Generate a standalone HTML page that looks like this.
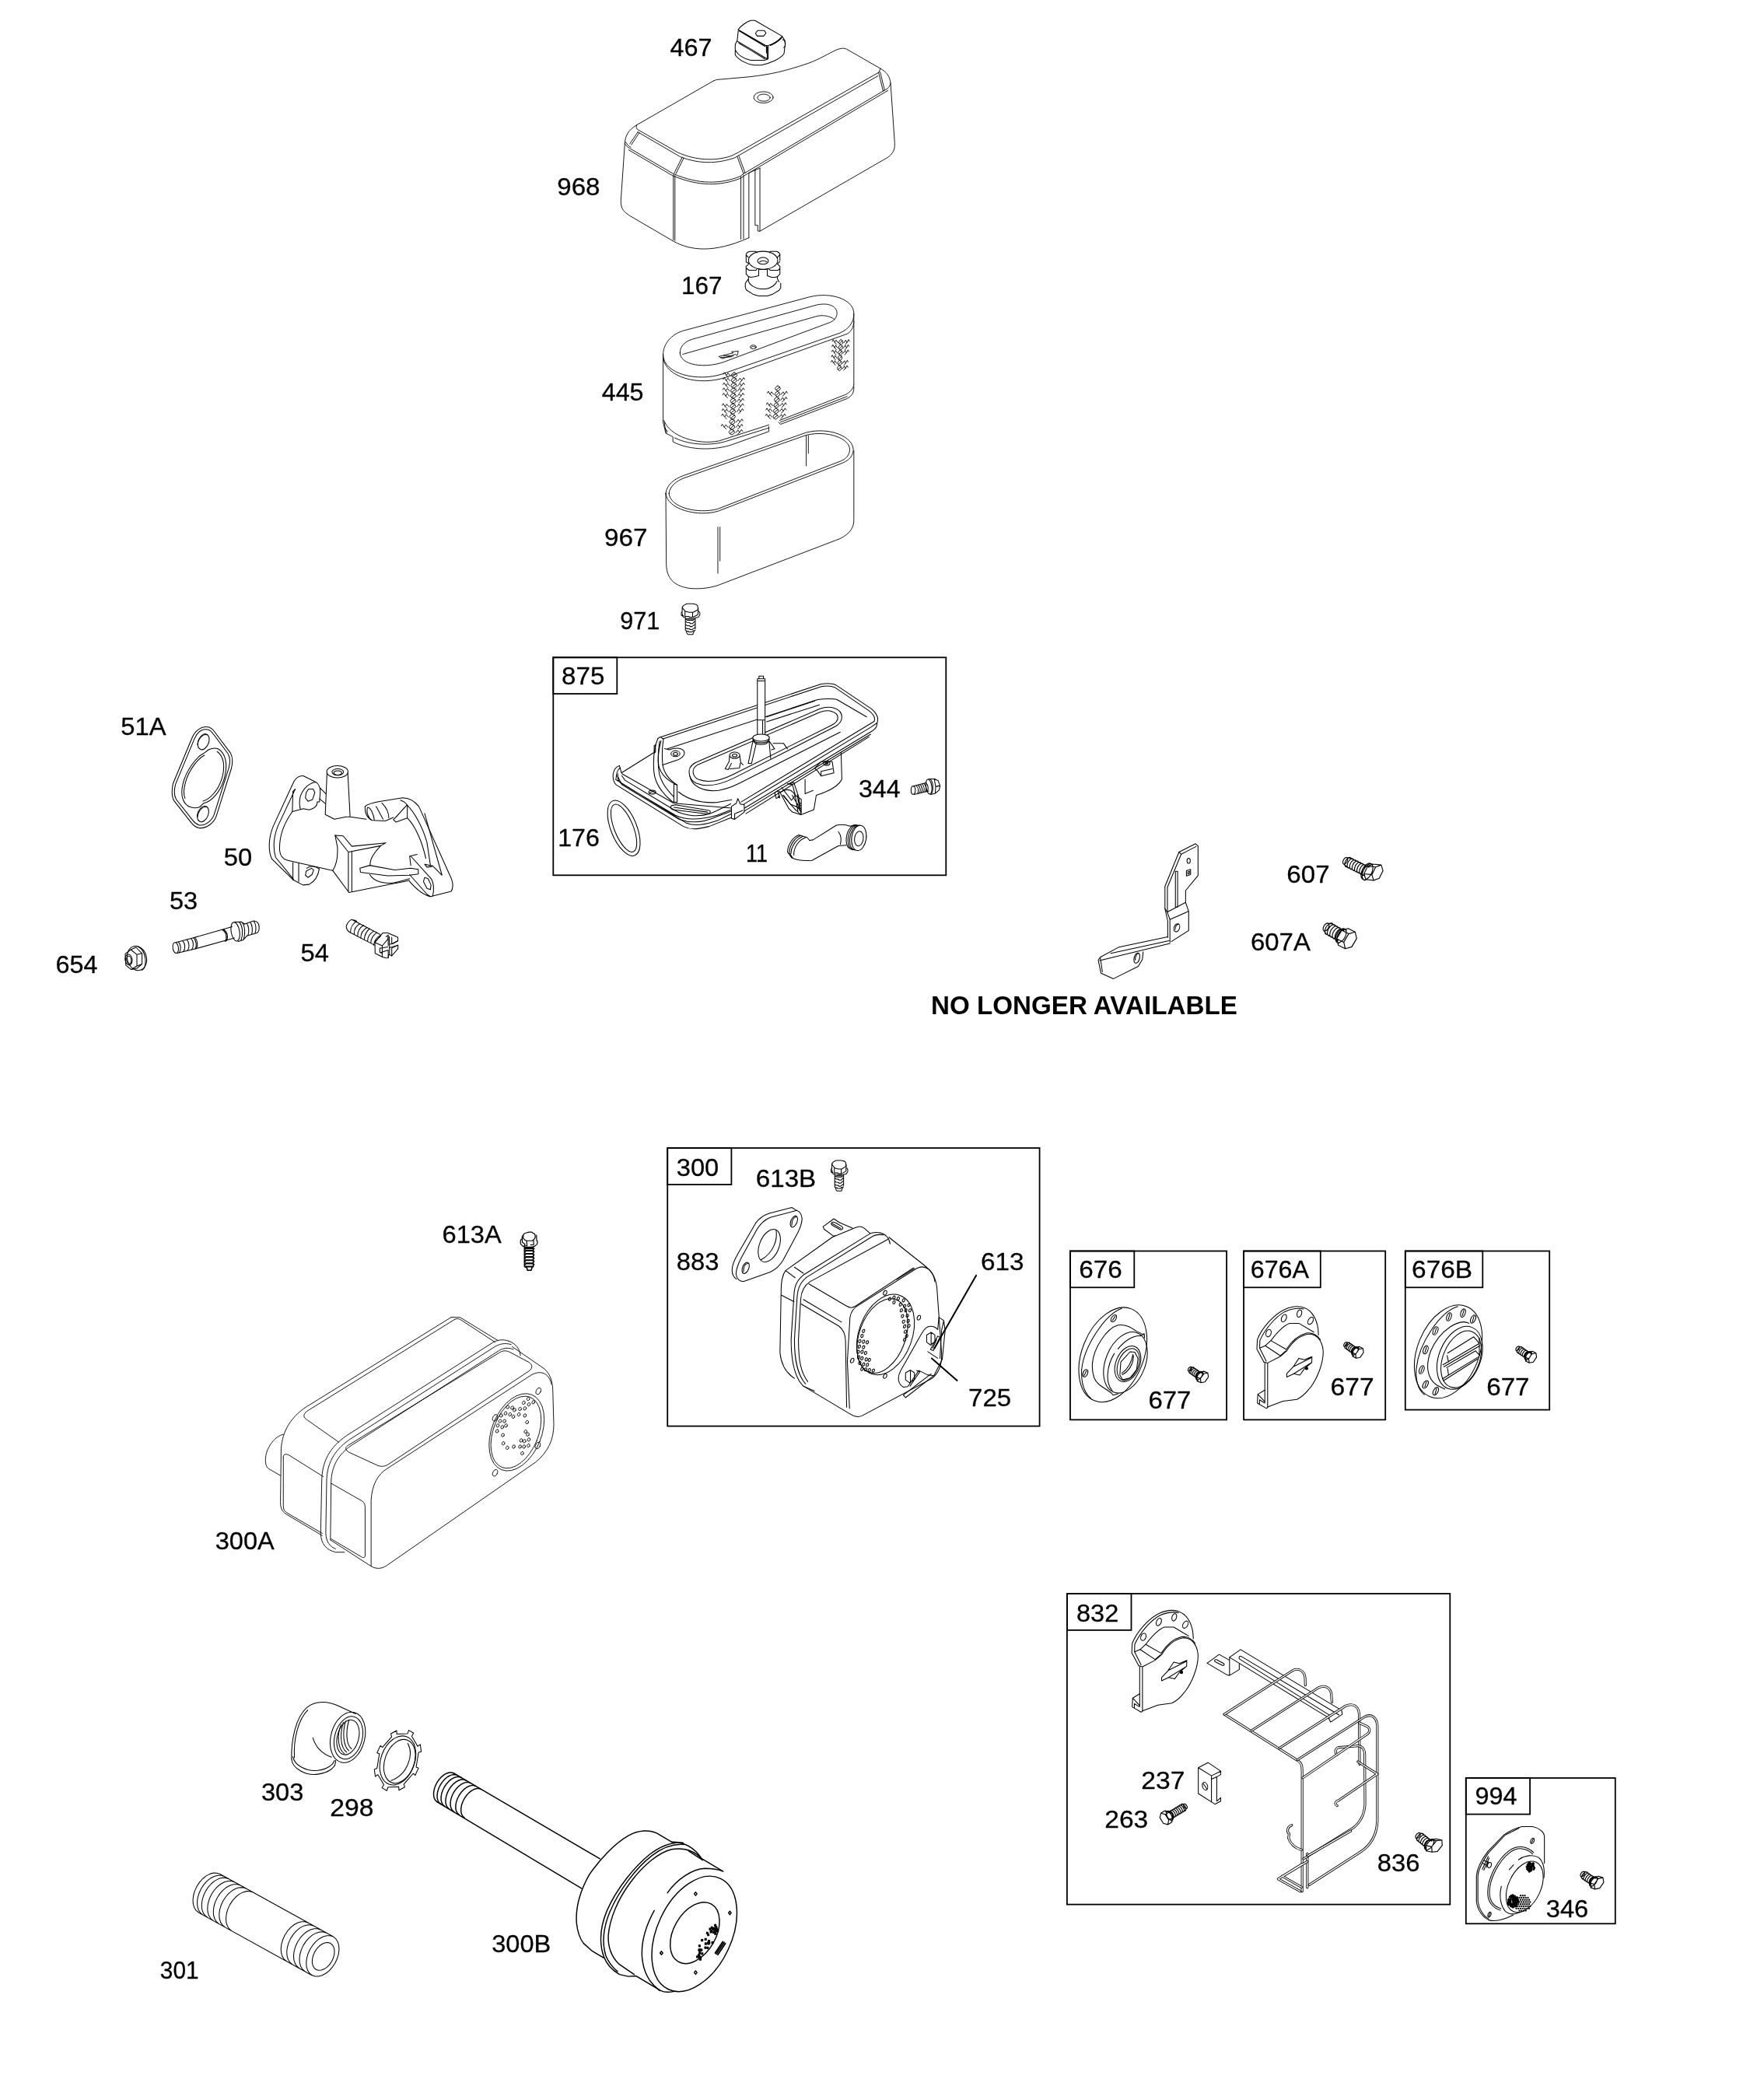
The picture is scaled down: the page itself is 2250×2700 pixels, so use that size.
<!DOCTYPE html>
<html><head><meta charset="utf-8"><title>Parts diagram</title>
<style>
html,body{margin:0;padding:0;background:#fff}
svg{display:block}
.p path,.p ellipse,.p circle,.p line,.p polyline,.p polygon,.p rect{fill:none;stroke:#000;stroke-width:1.05;vector-effect:non-scaling-stroke;stroke-linejoin:round;stroke-linecap:round}
.p .w{fill:#fff}
.p .k{fill:#000}
.p path.wo{stroke-width:3.1}.p path.wi{stroke:#fff;stroke-width:1.4}
.p g.thick path,.p g.thick ellipse{stroke-width:1.45}
.p g.thin path,.p g.thin ellipse{stroke-width:.9}
.bx rect{fill:none;stroke:#000;stroke-width:1.8}
text{font-family:"Liberation Sans",sans-serif;fill:#000}
text:not([font-weight]){stroke:#000;stroke-width:.3px}
</style></head>
<body>
<svg width="2250" height="2700" viewBox="0 0 2250 2700">
<rect width="2250" height="2700" fill="#fff"/>
<g class="p">
<!-- 968 cover, 467 knob, 167 : zoom origin 780,20 f4.375 -->
<g class="thin" transform="translate(780,20) scale(0.228571)">
<path d="M600,368 L170,615 C120,645 105,675 102,720 L80,1040 C78,1090 100,1108 140,1132 L380,1272 C470,1320 600,1340 800,1250"/>
<path d="M600,368 C615,360 625,360 640,359 L800,345 C930,330 1000,313 1130,270 C1200,245 1250,212 1290,194 C1315,183 1335,182 1350,189 L1540,298 C1575,318 1592,340 1597,380 L1620,715 C1624,765 1600,790 1560,810 L862,1213"/>
<path d="M170,615 C165,622 166,632 172,640 L400,770 C500,815 610,820 700,790 L740,770 L1530,320"/>
<path d="M175,655 L415,795 C520,835 620,835 720,800 L1525,340"/>
<path d="M102,720 C110,735 118,740 130,747 L375,890 C520,952 640,948 750,905 L770,890 L1580,410 C1590,402 1595,392 1597,380"/>
<path d="M108,712 C116,728 124,735 136,741"/>
<path d="M130,722 L175,655 M380,886 L425,797 M735,795 L770,890 M1530,322 L1555,425 M1540,298 L1530,322"/>
<path d="M375,895 V1262 M384,900 V1266 M755,905 V1258 M770,898 V1256 M800,885 V1250 M835,865 V1180 H850 V1212 L862,1213 V858"/>
<path d="M800,885 L862,858"/>
<path d="M124,756 L370,900 C520,963 640,959 752,916 L775,900 L1583,421"/>
<path d="M139,727 L183,660 M389,890 L434,801 M744,791 L779,886 M1539,318 L1563,420"/>
<ellipse cx="882" cy="460" rx="55" ry="32"/><ellipse cx="884" cy="462" rx="36" ry="20"/>
</g>
<g transform="translate(935,15) scale(0.0514286)">
<!-- 467 -->
<path d="M280,440 C340,360 480,250 590,220 L690,220 L1370,610 L1420,690 L1455,790 L1440,880 L1420,1050 C1330,1180 1080,1290 850,1335 L680,1335 C480,1320 280,1200 200,1080 V820 L250,720 Z"/>
<path d="M285,455 L960,845 L1040,840 C1160,800 1290,720 1370,620 M300,480 L950,870 M1080,845 C1180,805 1290,735 1365,655"/>
<path d="M980,850 V1030 M1000,870 V1190 M1025,860 V1180"/>
<path d="M250,740 L600,940 L990,1175 M290,790 L590,965 L940,1180 M205,960 C260,1080 420,1180 590,1215 L930,1215 L1000,1190"/>
<path d="M765,470 L925,470 L970,535 L910,610 L750,610 L705,540 Z"/>
<path d="M1385,700 L1440,720 L1450,850 L1415,900"/>
</g>
<g transform="translate(940,310) scale(0.0514286)">
<!-- 167 -->
<ellipse cx="800" cy="480" rx="365" ry="225"/>
<ellipse cx="797" cy="495" rx="135" ry="85"/><path d="M715,520 C760,480 840,480 890,520"/>
<path d="M375,345 C380,300 430,265 480,258 L615,258 L650,290 M375,345 V520 L440,560 M385,360 L430,400 M960,290 L980,258 L1140,258 C1185,275 1215,300 1220,330 V480 M1220,330 L1150,420 M1220,510 L1160,570"/>
<path d="M375,630 L440,575 M375,630 V825 L435,885 M380,680 L450,730 L620,730 L650,690 L690,690 V865 L590,890 L490,905 L435,885 M1220,630 L1160,575 M1220,630 V825 L1160,885 M1215,690 L1170,730 L980,730 L935,690 L905,690 V865 L1010,905 L1105,905 L1160,885 M690,690 L730,710 L870,710 L905,690"/>
<path d="M435,885 V1010 C470,1100 600,1180 730,1195 L870,1195 C1000,1170 1120,1090 1150,1000 M1155,885 L1160,950 L1200,1020"/>
<path d="M420,960 L355,1055 V1160 L380,1220 L550,1330 L690,1370 L910,1370 L1050,1320 L1200,1230 L1240,1170 V1050"/>
</g>
<!-- 445 filter, 967 base, 971 bolt : origin 760,360 f4.375 -->
<g class="thin" transform="translate(760,360) scale(0.228571)">
<path d="M405,420 C405,360 450,305 520,285 L1230,95 C1350,65 1480,110 1478,190 C1478,240 1450,275 1400,298 L740,528 C600,575 405,530 405,420 Z"/>
<path d="M500,410 C500,370 530,345 570,333 L1270,140 C1340,125 1385,150 1383,190 C1380,215 1365,230 1340,240 L750,460 C640,500 500,480 500,410 Z"/>
<path d="M515,418 L1265,205 C1300,195 1340,200 1370,222"/>
<path d="M405,440 C420,545 600,600 760,547 L1440,303 C1465,290 1478,262 1478,232"/>
<path d="M405,420 V800 M1478,190 V590"/>
<path d="M410,790 C440,880 600,930 720,905 L1000,815 M1060,790 L1430,645 C1460,630 1475,610 1478,590"/>
<path d="M405,800 L420,862 L460,882 V910 C560,962 700,957 790,927 L1000,852 V825 M1055,800 L1065,812 L1440,667 C1470,650 1480,630 1478,600"/>
<path d="M470,888 C560,932 680,932 760,907 L1000,832 M1065,800 L1440,655"/>
<path d="M415,830 L425,860 M412,800 C414,840 425,850 432,852"/>
<ellipse cx="912" cy="377" rx="17" ry="11"/><path d="M900,380 C905,372 920,372 925,380"/>
<path d="M720,430 L800,410 L790,404 L828,400 L822,425 L812,418 L740,442 Z M745,425 L800,428 M730,436 L790,432"/>
<path d="M805,520 Q838,535 805,550 Q772,535 805,520 M795,544 L818,526 M782,538 l-12,-15 l-9,14 l-11,-17 l-6,10 M772,548 l-11,-11 M804,549 Q836,564 804,580 Q771,564 804,549 M794,573 L816,555 M781,567 l-12,-15 l-9,14 l-11,-17 l-6,10 M771,577 l-11,-11 M826,567 l12,-15 l9,14 l11,-17 l6,10 M836,577 l11,-11 M802,578 Q835,593 802,609 Q770,593 802,578 M792,603 L815,584 M780,596 l-12,-15 l-9,14 l-11,-17 l-6,10 M770,606 l-11,-11 M825,596 l12,-15 l9,14 l11,-17 l6,10 M835,606 l11,-11 M801,607 Q834,622 801,638 Q769,622 801,607 M791,632 L814,613 M779,625 l-12,-15 l-9,14 l-11,-17 l-6,10 M769,635 l-11,-11 M824,625 l12,-15 l9,14 l11,-17 l6,10 M834,635 l11,-11 M800,636 Q832,652 800,667 Q768,652 800,636 M790,661 L812,642 M778,654 l-12,-15 l-9,14 l-11,-17 l-6,10 M768,664 l-11,-11 M822,654 l12,-15 l9,14 l11,-17 l6,10 M832,664 l11,-11 M799,665 Q831,681 799,696 Q766,681 799,665 M789,690 L811,672 M821,684 l12,-15 l9,14 l11,-17 l6,10 M831,693 l11,-11 M798,695 Q830,710 798,725 Q765,710 798,695 M788,719 L810,701 M775,713 l-12,-15 l-9,14 l-11,-17 l-6,10 M765,723 l-11,-11 M820,713 l12,-15 l9,14 l11,-17 l6,10 M830,723 l11,-11 M796,724 Q829,739 796,755 Q764,739 796,724 M786,748 L809,730 M774,742 l-12,-15 l-9,14 l-11,-17 l-6,10 M764,752 l-11,-11 M819,742 l12,-15 l9,14 l11,-17 l6,10 M829,752 l11,-11 M795,753 Q828,768 795,784 Q762,768 795,753 M785,778 L808,759 M772,771 l-12,-15 l-9,14 l-11,-17 l-6,10 M762,781 l-11,-11 M794,782 Q826,798 794,813 Q761,798 794,782 M784,807 L806,788 M816,800 l12,-15 l9,14 l11,-17 l6,10 M826,810 l11,-11 M792,811 Q825,827 792,842 Q760,827 792,811 M782,836 L805,817 M770,829 l-12,-15 l-9,14 l-11,-17 l-6,10 M760,839 l-11,-11 M815,829 l12,-15 l9,14 l11,-17 l6,10 M825,839 l11,-11 M791,840 Q824,856 791,871 Q759,856 791,840 M781,865 L804,847 M814,859 l12,-15 l9,14 l11,-17 l6,10 M824,868 l11,-11 M1050,595 Q1080,610 1050,625 Q1020,610 1050,595 M1041,619 L1062,601 M1048,626 Q1077,642 1048,657 Q1018,642 1048,626 M1038,651 L1059,632 M1027,644 l-12,-15 l-8,14 l-10,-17 l-6,10 M1018,654 l-10,-11 M1068,644 l12,-15 l8,14 l10,-17 l6,10 M1077,654 l10,-11 M1045,658 Q1075,673 1045,689 Q1015,673 1045,658 M1036,683 L1056,664 M1066,676 l12,-15 l8,14 l10,-17 l6,10 M1075,686 l10,-11 M1042,690 Q1072,705 1042,720 Q1013,705 1042,690 M1033,714 L1054,696 M1022,708 l-12,-15 l-8,14 l-10,-17 l-6,10 M1013,718 l-10,-11 M1063,708 l12,-15 l8,14 l10,-17 l6,10 M1072,718 l10,-11 M1040,721 Q1070,737 1040,752 Q1010,737 1040,721 M1031,746 L1052,727 M1019,739 l-12,-15 l-8,14 l-10,-17 l-6,10 M1010,749 l-10,-11 M1061,739 l12,-15 l8,14 l10,-17 l6,10 M1070,749 l10,-11 M1038,753 Q1067,768 1038,784 Q1008,768 1038,753 M1028,778 L1049,759 M1017,771 l-12,-15 l-8,14 l-10,-17 l-6,10 M1008,781 l-10,-11 M1058,771 l12,-15 l8,14 l10,-17 l6,10 M1067,781 l10,-11 M1405,335 Q1430,350 1405,365 Q1380,350 1405,335 M1397,359 L1414,341 M1388,353 l-10,-15 l-7,14 l-9,-17 l-5,10 M1380,363 l-9,-11 M1422,353 l10,-15 l7,14 l9,-17 l5,10 M1430,363 l9,-11 M1403,364 Q1428,379 1403,395 Q1379,379 1403,364 M1396,388 L1413,370 M1386,382 l-10,-15 l-7,14 l-9,-17 l-5,10 M1379,392 l-9,-11 M1420,382 l10,-15 l7,14 l9,-17 l5,10 M1428,392 l9,-11 M1402,393 Q1426,408 1402,424 Q1377,408 1402,393 M1394,418 L1411,399 M1385,411 l-10,-15 l-7,14 l-9,-17 l-5,10 M1377,421 l-9,-11 M1419,411 l10,-15 l7,14 l9,-17 l5,10 M1426,421 l9,-11 M1400,422 Q1425,438 1400,453 Q1375,438 1400,422 M1392,447 L1410,428 M1383,440 l-10,-15 l-7,14 l-9,-17 l-5,10 M1375,450 l-9,-11 M1398,451 Q1423,467 1398,482 Q1374,467 1398,451 M1391,476 L1408,457 M1381,469 l-10,-15 l-7,14 l-9,-17 l-5,10 M1374,479 l-9,-11 M1415,469 l10,-15 l7,14 l9,-17 l5,10 M1423,479 l9,-11 M1397,480 Q1421,496 1397,511 Q1372,496 1397,480 M1389,505 L1406,487 M1414,499 l10,-15 l7,14 l9,-17 l5,10 M1421,508 l9,-11"/>
<!-- 967 -->
<path d="M420,1200 C425,1150 470,1118 520,1100 L1210,858 C1340,825 1478,880 1475,960 C1470,1000 1440,1020 1400,1035 L715,1300 C600,1335 425,1290 420,1200 Z"/>
<path d="M438,1200 C442,1160 480,1130 525,1113 L1212,872 C1330,845 1455,890 1455,955 C1452,990 1430,1010 1395,1022 L712,1288 C600,1318 442,1280 438,1200 Z"/>
<path d="M420,1200 L423,1600 C425,1690 480,1725 560,1735 C620,1740 680,1730 720,1715 L1400,1455 C1460,1425 1478,1390 1478,1350 V960"/>
<path d="M1210,875 V1045 M1222,875 V975 M713,1390 V1650 M725,1390 V1580"/>
</g>
<g transform="translate(855,765) scale(0.0342857)">
<!-- 971 -->
<path d="M820,330 L1045,330 L1180,360 L1225,410 L1240,545 L1060,650 L910,650 L760,610 L660,490 L650,450 L700,390 L760,355 Z"/>
<path d="M650,450 L640,650 M1245,480 L1235,720 M750,610 V800 M1035,655 V830 M750,800 L900,800 L910,830 L1060,830 L1230,735"/>
<path d="M640,640 L615,650 L615,775 L650,780 L710,840 L750,840 M1270,610 L1310,680 L1305,750 L1250,830 L1130,860 M660,700 C640,720 660,760 690,780 M760,840 L780,880 L1110,880 L1130,860"/>
<path d="M765,860 V1330 M1135,880 V1275 M790,920 L850,950 L1050,950 L1100,910 M850,905 H1050 M790,1000 L830,1030 L930,1035 L940,1070 L1040,1070 L1110,990 M790,1120 L830,1150 L930,1155 L940,1185 L1010,1185 L1110,1110 M790,1240 L830,1265 L930,1270 L940,1300 L1010,1300 L1110,1230 M770,1330 L800,1350 L870,1360 L885,1385 L1010,1385 L1040,1350 L1130,1325 M800,1350 L820,1430 L860,1480 L1045,1480 L1065,1420 L1100,1340"/>
</g>
<!-- 875 assembly : origin 700,830 scale 530/1750 -->
<g transform="translate(700,830) scale(0.302857)">
</g>
<g transform="translate(780,860) scale(0.205714)">
<!-- back rim -->
<path d="M340,425 L1340,95 C1380,88 1410,90 1432,100 L1655,250 C1690,280 1702,310 1690,338 L1650,365 L850,850"/>
<path d="M352,438 L1342,110 C1378,104 1405,106 1425,115 L1640,262 C1670,285 1680,308 1672,328 L840,832"/>
<path d="M380,500 L1310,195 C1340,185 1420,185 1440,192 L1625,300"/>
<path d="M1690,338 C1692,360 1680,375 1660,388 L862,870 M1650,408 L862,888 M1640,425 L870,905"/>
<!-- front lip -->
<path d="M40,660 C45,630 60,610 80,605 L92,650 L300,520 M40,660 C38,690 45,710 60,725 L480,985 C520,1005 560,1005 640,985 L790,925"/>
<path d="M55,690 L495,962 C550,985 610,975 700,945 L780,905 M70,655 C65,690 75,705 90,715 L430,915 C500,950 600,940 690,915 L780,880"/>
<path d="M95,655 L420,840 L780,870"/>
<path d="M405,855 C395,865 400,875 415,880 L620,905 C650,905 655,890 640,885 L430,850 Z M420,865 L630,895"/>
<ellipse cx="285" cy="770" rx="22" ry="12"/><path d="M270,775 C280,765 295,765 303,772"/>
<!-- left wall -->
<path d="M320,435 C300,480 290,560 295,640 C300,720 350,780 410,830 L440,835 V725 C400,700 360,660 350,600"/>
<path d="M340,450 C320,520 318,600 330,660 C345,720 390,770 420,800 M320,435 L335,425 L355,440 C348,480 345,540 350,600"/>
<path d="M297,480 L305,475 V520 L297,525 Z M420,720 V832 M440,725 L420,720"/>
<path d="M350,600 L440,570 C480,555 495,530 480,510 C460,490 420,495 390,505 L362,498"/>
<ellipse cx="430" cy="530" rx="28" ry="18"/><ellipse cx="430" cy="532" rx="14" ry="9"/>
<!-- stadium -->
<path d="M515,640 C515,610 540,590 580,575 L1330,250 C1400,225 1470,250 1470,300 C1470,330 1450,350 1420,365 L800,680 C700,730 620,740 560,715 C530,700 515,675 515,640 Z"/>
<path d="M540,640 C540,615 560,600 595,588 L1335,270 C1390,250 1445,270 1445,305 C1445,325 1430,340 1405,352 L790,660 C700,705 630,712 575,692 C550,680 540,660 540,640 Z"/>
<path d="M520,670 C530,730 600,770 700,760 C760,750 800,730 830,715 L1460,395"/>
<path d="M1000,330 L1330,225 M1000,300 L1300,200"/>
<!-- post -->
<path d="M942,62 H990 V430 H942 Z" style="fill:#fff;stroke:none"/>
<path d="M942,75 V415 M990,75 V415 M952,62 V45 H980 V62 M942,75 V62 H990 V75 M942,320 H990 M942,75 H990 M975,325 V410"/>
<ellipse cx="965" cy="430" rx="52" ry="22" class="w"/><path d="M913,440 C925,470 1005,470 1017,440 M918,452 C930,480 1000,480 1012,452"/>
<path d="M915,445 L885,590 L905,592 L935,465 M1015,450 L1025,560 M1015,450 L1050,500 L1030,505 M1040,465 L1105,465 L1130,500"/>
<ellipse cx="800" cy="540" rx="32" ry="20"/><ellipse cx="800" cy="541" rx="15" ry="9"/>
<path d="M768,545 L765,580 L740,625 L760,630 L780,590 M832,545 L838,585 L852,600 M770,625 L830,620 L835,590"/>
<!-- carb body -->
<path d="M1465,520 L1470,690 C1450,730 1390,765 1310,790 L1295,880 L1215,912 L1180,880"/>
<path d="M1300,620 L1340,580 L1410,580 L1420,650 L1340,670 L1320,640 Z M1340,670 V640 L1410,625"/>
<ellipse cx="1375" cy="590" rx="20" ry="14"/><ellipse cx="1375" cy="590" rx="9" ry="6"/>
<path d="M1240,690 V780 L1290,760 M1090,770 C1130,740 1170,760 1180,800 L1195,890 M1100,790 L1180,880 M1140,720 L1170,710 L1200,800 L1215,910 M1160,790 L1200,860"/>
<path d="M1050,775 L1070,760 L1080,800 L1060,810 Z"/>
<!-- clip -->
<path d="M780,860 L810,840 L820,810 L835,845 L860,850 V895 L800,940 L780,935 Z M800,905 L850,885 M800,905 V940" class="w"/>
</g>
<g transform="translate(700,830) scale(0.302857)">
<!-- 176 o-ring -->
<ellipse cx="337" cy="775" rx="125" ry="55" transform="rotate(68 337 775)"/>
<ellipse cx="337" cy="775" rx="108" ry="40" transform="rotate(68 337 775)"/>
</g>
<g transform="translate(1000,990) scale(0.125714)">
<!-- 11 elbow -->
<path d="M215,665 C150,690 100,770 100,840 L140,895 M235,670 C170,695 118,775 118,845 L150,898 M255,680 C190,705 135,785 135,855 M285,690 C215,715 160,790 165,870 M215,665 L300,690 L325,720"/>
<path d="M325,720 L360,715 L600,565 C640,555 700,560 740,575 L790,560 L830,567 M140,895 C190,925 250,932 350,925 L620,775 L700,770 M620,630 C650,670 650,720 640,760"/>
<path d="M790,562 C740,570 700,640 700,720 C700,770 720,805 760,815 M808,565 C758,573 718,643 718,723 C718,773 738,808 775,818 M825,568 C775,576 735,646 735,726 C735,776 755,811 790,820"/>
<ellipse cx="830" cy="695" rx="75" ry="130" transform="rotate(8 830 695)"/><ellipse cx="830" cy="702" rx="45" ry="76" transform="rotate(8 830 702)"/>
<path d="M15,215 L110,390 L150,430 L230,455 M40,180 L140,310 L180,260 L150,150 L100,140 M60,260 L130,350 L200,380 L235,420 M180,260 L240,300 L240,440 M200,250 L210,330 L240,345 M185,370 L235,395 M195,340 L235,365 M0,270 L20,285 L10,250 M215,300 L225,420"/>
<!-- 344 -->
<ellipse cx="1385" cy="207" rx="22" ry="42"/>
<path d="M1385,165 L1520,130 M1392,250 L1545,215 M1415,158 C1440,180 1445,225 1425,245 M1435,153 C1460,175 1465,220 1445,240 M1455,148 C1480,170 1485,215 1465,235 M1475,143 C1500,165 1505,210 1485,230 M1495,138 C1520,160 1525,205 1505,225 M1515,133 C1540,155 1545,200 1525,220"/>
<ellipse cx="1545" cy="170" rx="30" ry="76" transform="rotate(-8 1545 170)"/>
<path d="M1560,95 C1590,120 1595,210 1570,245"/>
<path d="M1545,92 L1600,90 L1640,110 L1660,160 L1650,205 L1610,240 L1560,250 M1600,90 L1615,170 L1610,240 M1615,170 L1660,160"/>
</g>
<g transform="translate(775,930) scale(0.114286)">
<path d="M165,590 L215,690 L860,1080 C1000,1130 1150,1110 1280,1050 L1440,990 M215,590 L250,640 L820,985 C900,1030 1050,1060 1200,1020 L1280,985 L1440,905"/>
<path d="M850,770 C950,850 1100,900 1280,890 L1450,860 M150,620 C150,560 170,520 195,500"/>
<path d="M640,200 C625,300 615,400 630,480 C650,560 720,640 830,690"/>
</g>
<!-- 51A, 50, 53, 654, 54 : origin 60,900 scale 0.32 -->
<g transform="translate(60,900) scale(0.32)">
<!-- 51A gasket -->
<path d="M640,108 C660,108 668,118 680,135 L738,212 C748,228 748,250 742,275 L682,465 C672,495 640,518 612,514 C600,512 590,505 580,492 L512,405 C502,390 502,360 508,335 L585,150 C598,122 620,108 640,108 Z"/>
<path d="M640,118 C655,118 662,126 672,140 L728,215 C738,230 738,250 732,272 L673,460 C664,486 636,506 614,503 C604,501 596,495 588,485 L521,400 C512,386 512,360 518,338 L594,155 C605,130 622,118 640,118 Z"/>
<ellipse cx="630" cy="168" rx="21" ry="33" transform="rotate(22 630 168)"/>
<ellipse cx="628" cy="458" rx="21" ry="33" transform="rotate(22 628 458)"/>
<path d="M606,180 C610,150 630,135 645,140 M606,470 C610,440 630,425 645,430"/>
<path d="M690,197 C720,215 728,260 715,310 C700,370 660,410 630,415 L615,430 C590,438 560,432 548,400 C540,380 542,360 548,335 C560,285 600,230 630,215 L650,200 C665,193 680,192 690,197 Z"/>
<path d="M685,207 C710,225 718,262 706,308 C692,362 655,400 628,406 M556,395 C548,375 552,350 558,330 C570,285 605,236 634,222"/>
</g>
<g transform="translate(335,970) scale(0.148571)">
<path d="M370,185 C335,182 305,205 288,235 L108,625 C68,725 65,835 98,905 L282,1085 L367,1130 L420,1125 C470,1098 500,1042 508,990"/>
<path d="M300,300 L150,620 C110,720 110,820 130,890 L285,1080 M280,320 L275,495 C200,600 160,720 165,830 C170,880 190,905 230,915 L600,1000 L625,1005 C660,950 670,880 665,800 L645,700"/>
<path d="M370,185 L480,240 C510,260 520,300 515,345 L510,410 L490,410 C495,440 470,470 420,480 L370,470 L275,495 M280,320 L300,300"/>
<path d="M480,240 C430,240 370,290 345,360 C335,400 335,440 345,475 M415,300 L455,300 L470,330 L450,390 L410,405 L388,375 L395,330 Z M515,290 L565,340 M512,385 L560,425"/>
<ellipse cx="665" cy="150" rx="92" ry="52"/><ellipse cx="668" cy="152" rx="50" ry="28"/><ellipse cx="668" cy="160" rx="34" ry="18"/>
<path d="M575,160 L560,520 L640,560 L740,540 L775,540 L915,560 M755,160 L775,540"/>
<path d="M280,935 V1085 M330,940 V1100 M508,990 C480,968 430,960 400,985 M440,985 L460,1000 L445,1040 L410,1065 L388,1045 L395,1010 Z"/>
<path d="M645,700 L715,705 L790,795 L1085,765 L1040,790 L760,845 Z M760,845 V1190 M790,842 V1185 M625,1005 L765,1195 L1290,1090 M1040,790 C980,850 940,920 950,960"/>
<path d="M860,985 L945,960 L1160,1000 L1300,985 L1365,995 V1035 L1290,1045 L1100,1050 L865,1020 Z M945,1040 C980,1100 1080,1130 1180,1105 L1290,1075"/>
<path d="M905,450 C920,430 980,415 1040,405 L1230,375 C1290,375 1330,400 1370,450 L1640,1050 C1670,1110 1670,1150 1650,1185 L1470,1230 C1420,1220 1360,1180 1290,1100"/>
<path d="M1265,440 L1150,565 L1170,585 L1270,550 V440 M1270,440 C1330,500 1400,620 1440,760 L1470,960 M1270,550 C1340,620 1400,760 1430,900 M1420,510 L1570,1045 L1490,965 L1420,950 L1440,975 L1480,970"/>
<path d="M905,450 C900,500 920,550 965,570 L1080,575 L1150,545 M925,460 C950,450 980,520 985,570 M925,460 C915,500 930,550 965,570 M1000,450 L1060,560 M1050,420 C1090,460 1110,500 1110,550 M1210,395 C1240,405 1258,420 1270,440"/>
<path d="M1290,880 L1355,865 M1290,880 L1300,960 M1300,880 L1480,1080 C1500,1120 1500,1180 1490,1225 M1290,1040 L1440,1210 L1470,1230 M1420,1065 L1450,1075 L1475,1130 L1470,1170 L1440,1160 L1410,1100 Z"/>
</g>
<g transform="translate(60,900) scale(0.32)">
</g>
<g transform="translate(140,1170) scale(0.12)">
<!-- 53 stud -->
<ellipse cx="715" cy="405" rx="30" ry="58" transform="rotate(-8 715 405)"/>
<path d="M718,348 L905,298 L1320,180 M728,462 L940,412 L1345,300"/>
<path d="M745,342 C775,370 775,430 752,458 M790,330 C820,360 820,420 798,448 M835,318 C865,348 865,408 842,436 M880,306 C910,336 910,396 888,424 M908,298 C940,330 942,385 925,418 M922,295 C952,325 955,382 938,413"/>
<path d="M1215,210 C1260,240 1270,300 1245,337 M1228,206 C1272,236 1282,296 1258,333"/>
<ellipse cx="1355" cy="232" rx="45" ry="102" transform="rotate(-10 1355 232)"/>
<path d="M1345,130 L1420,128 C1455,150 1468,250 1440,320 L1385,338 M1400,132 C1432,170 1442,260 1415,327 M1420,128 L1455,150 M1440,320 L1478,278"/>
<path d="M1455,150 L1545,118 C1590,112 1612,150 1610,190 C1610,222 1600,240 1585,246 L1478,278 M1478,145 C1500,170 1505,235 1490,272 M1515,132 C1538,160 1543,225 1528,262 M1552,120 C1578,148 1582,215 1565,252"/>
<!-- 654 nut -->
<ellipse cx="300" cy="517" rx="103" ry="132" transform="rotate(-15 300 517)"/>
<path d="M310,392 C370,420 400,500 390,580 C385,620 370,640 350,645"/>
<path d="M175,470 L235,425 L300,478 L300,600 L240,638 L182,592 Z M235,425 L290,400 L355,465 L300,478 M355,465 V580 L300,600 M240,638 L300,625 L355,580"/>
<ellipse cx="212" cy="532" rx="38" ry="58" transform="rotate(-8 212 532)"/><ellipse cx="215" cy="535" rx="25" ry="42" transform="rotate(-8 215 535)"/>
</g>
<g transform="translate(60,900) scale(0.32)">
</g>
<g transform="translate(430,1170) scale(0.0571429)">
<!-- 54 screw -->
<path d="M390,215 L1030,550 M340,500 L900,790 M390,215 C340,230 280,300 265,370 C270,420 300,470 340,500 M420,225 L480,235"/>
<path d="M500,250 C420,300 360,400 360,500 M575,305 C490,350 440,440 445,540 M660,340 C575,390 520,480 520,590 M735,395 C650,440 595,530 590,630 M790,420 C720,480 680,570 670,660 M880,480 C800,530 745,620 745,700 M950,510 C870,570 820,660 820,740 M1030,570 C950,620 890,710 885,790 M1040,590 C980,640 930,700 910,720"/>
<path d="M910,730 L1090,515 L1200,518 L1425,612 L1430,690 L1300,760 L1240,770 M1240,850 L1430,790 V870 L1290,1030 L1220,1000 L1210,1075 L1160,1080 L1075,1055 L915,975 L910,730"/>
<path d="M910,730 L1075,805 L1200,660 L1210,560 M1075,805 V1055 M1210,560 V800 M1235,600 L1240,1000 M1290,615 V760 M1290,860 V1030 M1020,860 V950 L1075,975 M1020,860 L1200,830 M1040,960 L1210,900 M1160,600 L1210,570 M1210,900 V1075 M1300,760 L1420,700 M1290,860 L1430,790"/>
</g>
<!-- bracket, 607, 607A : origin 1180,1060 scale 0.354286 -->
<g transform="translate(1180,1060) scale(0.354286)">
<path d="M948,100 L1008,70 L1017,78 L1017,185 L972,240 L972,283 L905,318 L897,305 L897,225 Z"/>
<path d="M948,100 L956,108 L1010,80 M956,108 L906,228 V316"/>
<path d="M935,170 H943 V300 H935 Z"/>
<ellipse cx="983" cy="132" rx="6" ry="9"/><path d="M975,168 L990,163 V182 L975,187 Z M980,172 L986,170 V178 L980,180 Z"/>
<path d="M905,318 L915,345 L983,315 L972,283 M983,315 V385 L920,425 M915,345 V428 M897,305 L907,350 V410"/>
<ellipse cx="940" cy="375" rx="10" ry="15" transform="rotate(20 940 375)"/><path d="M934,382 C934,370 940,362 947,362"/>
<path d="M907,408 L730,445 L662,482 L655,492 L665,540 L710,560 L800,515 L815,490 L818,462 M915,432 L660,494 M912,422 L700,468 M662,482 L670,535"/>
<ellipse cx="795" cy="485" rx="10" ry="19" transform="rotate(15 795 485)"/><path d="M789,492 C789,478 795,468 802,468"/>
</g>
<path d="M1727.5,1110.9 L1732.4,1115.0 L1754.8,1126.1 M1731.7,1102.5 L1737.9,1103.9 L1760.2,1114.9 M1727.5,1110.9 L1728.6,1111.0 L1729.8,1110.4 L1730.9,1109.3 L1731.9,1107.8 L1732.5,1106.2 L1732.7,1104.6 L1732.4,1103.3 L1731.7,1102.5 L1730.6,1102.4 L1729.4,1103.0 L1728.3,1104.1 L1727.3,1105.6 L1726.7,1107.2 L1726.5,1108.8 L1726.8,1110.1 L1727.5,1110.9 Z M1732.3,1114.6 L1730.7,1114.7 L1729.5,1113.7 L1728.9,1111.9 L1729.1,1109.5 L1730.1,1106.9 L1731.5,1104.7 L1733.3,1103.0 L1735.1,1102.4 L1736.6,1102.7 L1737.5,1104.1 M1735.5,1116.2 L1733.8,1116.2 L1732.6,1115.3 L1732.1,1113.4 L1732.3,1111.0 L1733.2,1108.5 L1734.7,1106.2 L1736.5,1104.6 L1738.2,1103.9 L1739.7,1104.3 L1740.7,1105.6 M1738.6,1117.7 L1737.0,1117.8 L1735.8,1116.8 L1735.2,1115.0 L1735.4,1112.6 L1736.3,1110.0 L1737.8,1107.8 L1739.6,1106.1 L1741.4,1105.5 L1742.9,1105.8 L1743.8,1107.2 M1741.7,1119.3 L1740.1,1119.3 L1738.9,1118.4 L1738.3,1116.5 L1738.5,1114.1 L1739.5,1111.6 L1740.9,1109.3 L1742.7,1107.7 L1744.5,1107.0 L1746.0,1107.4 L1747.0,1108.7 M1744.9,1120.8 L1743.2,1120.9 L1742.0,1119.9 L1741.5,1118.1 L1741.7,1115.7 L1742.6,1113.1 L1744.1,1110.9 L1745.9,1109.2 L1747.6,1108.6 L1749.1,1108.9 L1750.1,1110.3 M1748.0,1122.4 L1746.4,1122.4 L1745.2,1121.5 L1744.6,1119.6 L1744.8,1117.2 L1745.7,1114.7 L1747.2,1112.4 L1749.0,1110.8 L1750.8,1110.1 L1752.3,1110.5 L1753.2,1111.8 M1751.1,1123.9 L1749.5,1124.0 L1748.3,1123.0 L1747.8,1121.2 L1748.0,1118.8 L1748.9,1116.2 L1750.3,1114.0 L1752.1,1112.3 L1753.9,1111.7 L1755.4,1112.0 L1756.4,1113.4 M1754.3,1125.5 L1752.6,1125.5 L1751.4,1124.6 L1750.9,1122.7 L1751.1,1120.3 L1752.0,1117.8 L1753.5,1115.5 L1755.3,1113.9 L1757.1,1113.2 L1758.5,1113.6 L1759.5,1114.9 M1752.4,1130.8 L1754.4,1131.2 L1756.7,1130.5 L1759.1,1128.8 L1761.3,1126.4 L1763.2,1123.3 L1764.5,1120.0 L1765.1,1116.7 L1765.0,1113.8 L1764.1,1111.6 L1762.6,1110.2 L1760.6,1109.8 L1758.3,1110.5 L1755.9,1112.2 L1753.7,1114.6 L1751.8,1117.7 L1750.5,1121.0 L1749.9,1124.3 L1750.0,1127.2 L1750.9,1129.4 L1752.4,1130.8 Z M1755.1,1131.9 L1753.3,1131.2 L1752.1,1129.7 L1751.4,1127.4 L1751.4,1124.6 L1752.0,1121.5 L1753.3,1118.4 L1755.0,1115.5 L1757.1,1113.1 L1759.3,1111.5 L1761.5,1110.6 L1763.5,1110.7 L1765.1,1111.7 M1766.1,1131.9 L1773.3,1129.3 L1778.1,1119.4 L1775.9,1112.1 L1768.7,1114.7 L1763.9,1124.6 Z M1766.1,1131.9 L1756.0,1130.7 M1775.9,1112.1 L1765.8,1111.0 M1768.7,1114.7 L1758.6,1113.6 M1763.9,1124.6 L1753.7,1123.5 M1765.8,1111.0 L1758.6,1113.6 L1753.7,1123.5 L1756.0,1130.7 M1702.2,1196.9 L1705.0,1200.7 L1720.2,1209.5 M1707.8,1187.1 L1712.6,1187.7 L1727.8,1196.5 M1702.2,1196.9 L1703.4,1197.1 L1704.9,1196.5 L1706.4,1195.3 L1707.7,1193.6 L1708.6,1191.6 L1708.9,1189.7 L1708.6,1188.1 L1707.8,1187.1 L1706.6,1186.9 L1705.1,1187.5 L1703.6,1188.7 L1702.3,1190.4 L1701.4,1192.4 L1701.1,1194.3 L1701.4,1195.9 L1702.2,1196.9 Z M1707.2,1201.5 L1705.2,1201.4 L1703.8,1200.2 L1703.3,1197.9 L1703.7,1195.0 L1705.0,1192.0 L1707.0,1189.4 L1709.2,1187.6 L1711.5,1186.9 L1713.2,1187.4 L1714.3,1189.2 M1710.4,1203.3 L1708.4,1203.3 L1707.0,1202.0 L1706.5,1199.8 L1706.9,1196.9 L1708.2,1193.9 L1710.2,1191.2 L1712.5,1189.4 L1714.7,1188.7 L1716.5,1189.3 L1717.5,1191.0 M1713.6,1205.2 L1711.6,1205.1 L1710.2,1203.9 L1709.7,1201.6 L1710.1,1198.7 L1711.4,1195.7 L1713.4,1193.1 L1715.7,1191.3 L1717.9,1190.6 L1719.7,1191.2 L1720.7,1192.9 M1716.8,1207.1 L1714.8,1207.0 L1713.4,1205.7 L1712.9,1203.5 L1713.4,1200.6 L1714.7,1197.6 L1716.6,1195.0 L1718.9,1193.2 L1721.1,1192.5 L1722.9,1193.0 L1723.9,1194.7 M1720.0,1208.9 L1718.0,1208.9 L1716.7,1207.6 L1716.1,1205.4 L1716.6,1202.5 L1717.9,1199.5 L1719.8,1196.8 L1722.1,1195.0 L1724.3,1194.3 L1726.1,1194.9 L1727.2,1196.6 M1719.0,1211.7 L1720.7,1212.1 L1722.7,1211.6 L1724.9,1210.3 L1727.0,1208.3 L1728.8,1205.8 L1730.1,1202.9 L1730.8,1200.1 L1730.9,1197.6 L1730.2,1195.6 L1729.0,1194.3 L1727.3,1193.9 L1725.3,1194.4 L1723.1,1195.7 L1721.0,1197.7 L1719.2,1200.2 L1717.9,1203.1 L1717.2,1205.9 L1717.1,1208.4 L1717.8,1210.4 L1719.0,1211.7 Z M1721.4,1212.8 L1719.9,1212.2 L1718.9,1210.8 L1718.5,1208.8 L1718.6,1206.3 L1719.4,1203.7 L1720.6,1201.0 L1722.3,1198.6 L1724.2,1196.7 L1726.3,1195.4 L1728.2,1194.7 L1729.9,1194.9 L1731.2,1195.9 M1729.7,1219.8 L1738.0,1217.4 L1744.3,1206.6 L1742.3,1198.2 L1734.0,1200.6 L1727.7,1211.4 Z M1729.7,1219.8 L1720.7,1215.3 M1742.3,1198.2 L1733.3,1193.7 M1734.0,1200.6 L1725.0,1196.1 M1727.7,1211.4 L1718.7,1206.9 M1733.3,1193.7 L1725.0,1196.1 L1718.7,1206.9 L1720.7,1215.3" style="stroke-width:1.15"/>
<!-- 300A muffler, 613A : origin 260,1560 scale 0.285714 -->
<g class="thin" transform="translate(260,1560) scale(0.285714)">
<path d="M1120,468 L470,870 C400,915 360,980 355,1060 L352,1300 C352,1335 365,1345 380,1355 L540,1450"/>
<path d="M1120,468 L1160,468 L1330,572 M1135,478 L480,885 C455,900 450,915 470,928 L615,1030 M1135,478 C1145,472 1155,474 1165,480 L1318,580"/>
<path d="M365,1100 C362,1085 375,1080 390,1088 L545,1185 M365,1100 V1320 C365,1335 372,1342 385,1350 L540,1440"/>
<path d="M365,995 C330,1000 290,1050 285,1100 C283,1130 290,1145 300,1150 L352,1180"/>
<path d="M1380,575 C1350,565 1330,570 1310,580 L650,1000 C570,1055 540,1120 538,1200 L533,1440 C535,1490 560,1515 600,1525 L640,1525"/>
<path d="M1390,590 C1360,582 1340,588 1320,598 L660,1020 C590,1070 562,1130 560,1200 L556,1440 C558,1480 575,1500 600,1510"/>
<path d="M1400,612 C1375,602 1352,607 1335,618 L675,1042 C610,1085 582,1140 580,1210 L577,1470"/>
<path d="M1380,575 C1410,585 1430,610 1432,640"/>
<path d="M1395,600 L1540,700 C1568,725 1578,760 1578,810 L1582,950 C1582,1020 1555,1075 1500,1120 L830,1585 C805,1602 780,1600 760,1588 L577,1470"/>
<path d="M760,1588 V1290 C765,1220 790,1175 830,1150 L1480,728 C1520,705 1560,715 1572,770"/>
<path d="M655,1045 C640,1055 645,1065 660,1075 L790,1135 C810,1142 825,1138 840,1128 L1470,710 C1490,695 1485,680 1470,670 L1385,625 C1365,615 1350,618 1335,628 Z"/>
<path d="M580,1215 L720,1295 C730,1302 733,1310 733,1325 V1540 C733,1550 725,1552 715,1545 L580,1465"/>
<ellipse cx="1415" cy="985" rx="112" ry="182" transform="rotate(22 1415 985)"/>
<ellipse cx="1412" cy="985" rx="101" ry="170" transform="rotate(22 1412 985)"/>
<ellipse cx="1513" cy="800" rx="10" ry="16" transform="rotate(25 1513 800)"/><ellipse cx="1318" cy="920" rx="10" ry="16" transform="rotate(25 1318 920)"/>
<ellipse cx="1510" cy="1045" rx="10" ry="16" transform="rotate(25 1510 1045)"/><ellipse cx="1318" cy="1168" rx="10" ry="16" transform="rotate(25 1318 1168)"/>
<ellipse cx="1467" cy="835" rx="6" ry="8" transform="rotate(25 1467 835)"/><ellipse cx="1490" cy="850" rx="6" ry="8" transform="rotate(25 1490 850)"/><ellipse cx="1470" cy="860" rx="6" ry="8" transform="rotate(25 1470 860)"/><ellipse cx="1447" cy="852" rx="6" ry="8" transform="rotate(25 1447 852)"/><ellipse cx="1452" cy="878" rx="6" ry="8" transform="rotate(25 1452 878)"/><ellipse cx="1430" cy="880" rx="6" ry="8" transform="rotate(25 1430 880)"/><ellipse cx="1395" cy="875" rx="6" ry="8" transform="rotate(25 1395 875)"/><ellipse cx="1375" cy="872" rx="6" ry="8" transform="rotate(25 1375 872)"/><ellipse cx="1405" cy="885" rx="6" ry="8" transform="rotate(25 1405 885)"/><ellipse cx="1425" cy="905" rx="6" ry="8" transform="rotate(25 1425 905)"/><ellipse cx="1452" cy="910" rx="6" ry="8" transform="rotate(25 1452 910)"/><ellipse cx="1365" cy="900" rx="6" ry="8" transform="rotate(25 1365 900)"/><ellipse cx="1385" cy="905" rx="6" ry="8" transform="rotate(25 1385 905)"/><ellipse cx="1400" cy="915" rx="6" ry="8" transform="rotate(25 1400 915)"/><ellipse cx="1345" cy="910" rx="6" ry="8" transform="rotate(25 1345 910)"/><ellipse cx="1340" cy="935" rx="6" ry="8" transform="rotate(25 1340 935)"/><ellipse cx="1360" cy="935" rx="6" ry="8" transform="rotate(25 1360 935)"/><ellipse cx="1330" cy="955" rx="6" ry="8" transform="rotate(25 1330 955)"/><ellipse cx="1350" cy="962" rx="6" ry="8" transform="rotate(25 1350 962)"/><ellipse cx="1367" cy="955" rx="6" ry="8" transform="rotate(25 1367 955)"/><ellipse cx="1327" cy="980" rx="6" ry="8" transform="rotate(25 1327 980)"/><ellipse cx="1462" cy="940" rx="6" ry="8" transform="rotate(25 1462 940)"/><ellipse cx="1455" cy="982" rx="6" ry="8" transform="rotate(25 1455 982)"/><ellipse cx="1465" cy="995" rx="6" ry="8" transform="rotate(25 1465 995)"/><ellipse cx="1353" cy="998" rx="6" ry="8" transform="rotate(25 1353 998)"/><ellipse cx="1470" cy="1018" rx="6" ry="8" transform="rotate(25 1470 1018)"/><ellipse cx="1435" cy="1022" rx="6" ry="8" transform="rotate(25 1435 1022)"/><ellipse cx="1450" cy="1025" rx="6" ry="8" transform="rotate(25 1450 1025)"/><ellipse cx="1355" cy="1035" rx="6" ry="8" transform="rotate(25 1355 1035)"/><ellipse cx="1430" cy="1050" rx="6" ry="8" transform="rotate(25 1430 1050)"/><ellipse cx="1448" cy="1050" rx="6" ry="8" transform="rotate(25 1448 1050)"/><ellipse cx="1468" cy="1045" rx="6" ry="8" transform="rotate(25 1468 1045)"/><ellipse cx="1373" cy="1055" rx="6" ry="8" transform="rotate(25 1373 1055)"/><ellipse cx="1402" cy="1050" rx="6" ry="8" transform="rotate(25 1402 1050)"/><ellipse cx="1440" cy="1080" rx="6" ry="8" transform="rotate(25 1440 1080)"/>
</g>
<g transform="translate(650,1575) scale(0.0342857)">
<path d="M880,265 L985,265 L1020,300 L1075,325 L1110,375 L1110,480 L1050,555 L990,590 L790,590 L720,560 L660,490 L670,380 L690,330 L760,300 Z" style="stroke-width:1.2"/>
<path d="M650,385 L620,450 L630,650 M1160,385 L1165,580 L1195,600 L1190,710 L1100,790 L1020,820 M790,590 L805,780 M1050,570 L1055,740 L940,745 M630,650 L690,690 L730,720 L700,780 L800,780 M590,530 L560,600 L560,690 L590,740 L650,800 L750,830 L1000,830" style="stroke-width:1.2"/>
<path d="M712,830 V1560 M1040,830 V1560 M712,1560 L800,1600 L820,1700 L960,1700 L990,1600 L1040,1560" style="stroke-width:1.6"/>
<path d="M735,870 H1025 M735,960 H1025 M735,1080 H1025 M735,1200 H1025 M735,1320 H1025 M735,1440 H1025 M735,1560 H1025" style="stroke-width:2.1;stroke-linecap:butt"/>
<path d="M710,880 L745,900 M1040,880 L1075,895 M710,990 L745,1010 M1040,990 L1075,1005 M710,1110 L745,1130 M1040,1110 L1075,1125 M710,1230 L745,1250 M1040,1230 L1075,1245 M710,1350 L745,1370 M1040,1350 L1075,1365 M710,1470 L745,1490 M1040,1470 L1075,1485" style="stroke-width:1.4"/>
</g>
<!-- 300 box parts : origin 850,1465 scale 0.285714 -->
<g transform="translate(850,1465) scale(0.285714)">
</g>
<g transform="translate(930,1540) scale(0.125714)">
<!-- 883 gasket -->
<path d="M750,130 L480,200 C420,225 370,275 340,330 L180,620 C150,680 130,730 130,780 C135,830 170,860 210,855 L480,760 C540,730 580,690 610,640 L760,360 C790,300 805,260 805,210 C800,165 780,140 750,130 Z"/>
<path d="M750,130 L700,100 L470,160 C410,180 360,220 330,260 L150,570 C110,640 85,700 90,750 C92,790 110,815 135,832"/>
<ellipse cx="470" cy="490" rx="100" ry="176" transform="rotate(22 470 490)"/>
<path d="M540,330 C555,420 520,560 385,635"/>
<ellipse cx="722" cy="243" rx="32" ry="60" transform="rotate(22 722 243)"/><path d="M700,280 C700,230 720,200 745,195"/>
<ellipse cx="228" cy="718" rx="32" ry="60" transform="rotate(22 228 718)"/><path d="M206,755 C206,705 226,675 251,670"/>
<!-- muffler tab -->
<path d="M1020,295 L1130,215 L1190,255 L1320,310 M1020,295 L1030,320 L1130,395 L1140,385"/>
<path d="M1105,258 C1115,245 1140,250 1160,262 L1215,295 C1230,310 1222,328 1200,328 L1120,285 C1105,275 1100,268 1105,258 Z M1115,265 L1205,315"/>
</g>
<g transform="translate(850,1465) scale(0.285714)">
<!-- rear half -->
<path d="M770,440 L560,590 C545,610 540,640 540,680 L535,960 C540,1010 560,1050 600,1075 M600,575 L640,602 M560,590 L603,622 M540,700 L598,730"/>
<path d="M770,440 L880,395 C895,388 905,392 915,400 L940,422"/>
<!-- seam ring -->
<path d="M985,420 C960,415 945,420 930,430 L640,610 C610,635 600,660 598,700 L585,900 C585,1000 600,1070 640,1110 L690,1132"/>
<path d="M1000,430 C975,425 960,430 945,440 L655,620 C625,645 615,670 612,710 L600,900 C600,1000 615,1060 650,1100"/>
<path d="M1020,450 L670,640 C640,660 630,690 628,720 L618,900 C618,1000 630,1050 660,1090"/>
<path d="M985,420 C1010,425 1028,445 1030,470"/>
<!-- front body -->
<path d="M1025,440 L1195,575 C1225,600 1240,630 1242,680 L1262,960 C1265,1010 1250,1050 1220,1075 L905,1243 C885,1252 868,1248 850,1235 L640,1110"/>
<path d="M665,650 L835,750 C850,760 860,760 875,750 L1135,578 M630,740 L800,840 C820,855 830,880 830,910 L835,1205 M640,720 L812,822"/>
<path d="M848,1210 L838,1000 L850,800 C855,770 870,755 890,745 L1150,580 C1190,560 1225,590 1232,640"/>
<path d="M1060,630 L1140,580"/>
<ellipse cx="1010" cy="878" rx="120" ry="188" transform="rotate(20 1010 878)"/>
<ellipse cx="996" cy="884" rx="104" ry="174" transform="rotate(20 996 884)"/><ellipse cx="1029" cy="718" rx="5" ry="7.5" transform="rotate(25 1029 718)"/><ellipse cx="1048" cy="711" rx="5" ry="7.5" transform="rotate(25 1048 711)"/><ellipse cx="1067" cy="716" rx="5" ry="7.5" transform="rotate(25 1067 716)"/><ellipse cx="1091" cy="724" rx="5" ry="7.5" transform="rotate(25 1091 724)"/><ellipse cx="1048" cy="733" rx="5" ry="7.5" transform="rotate(25 1048 733)"/><ellipse cx="1077" cy="743" rx="5" ry="7.5" transform="rotate(25 1077 743)"/><ellipse cx="1096" cy="750" rx="5" ry="7.5" transform="rotate(25 1096 750)"/><ellipse cx="1115" cy="745" rx="5" ry="7.5" transform="rotate(25 1115 745)"/><ellipse cx="1081" cy="769" rx="5" ry="7.5" transform="rotate(25 1081 769)"/><ellipse cx="1101" cy="769" rx="5" ry="7.5" transform="rotate(25 1101 769)"/><ellipse cx="1120" cy="769" rx="5" ry="7.5" transform="rotate(25 1120 769)"/><ellipse cx="1086" cy="795" rx="5" ry="7.5" transform="rotate(25 1086 795)"/><ellipse cx="1108" cy="793" rx="5" ry="7.5" transform="rotate(25 1108 793)"/><ellipse cx="1091" cy="820" rx="5" ry="7.5" transform="rotate(25 1091 820)"/><ellipse cx="1112" cy="817" rx="5" ry="7.5" transform="rotate(25 1112 817)"/><ellipse cx="1096" cy="841" rx="5" ry="7.5" transform="rotate(25 1096 841)"/><ellipse cx="1115" cy="839" rx="5" ry="7.5" transform="rotate(25 1115 839)"/><ellipse cx="1099" cy="865" rx="5" ry="7.5" transform="rotate(25 1099 865)"/><ellipse cx="1105" cy="884" rx="5" ry="7.5" transform="rotate(25 1105 884)"/><ellipse cx="1096" cy="901" rx="5" ry="7.5" transform="rotate(25 1096 901)"/><ellipse cx="911" cy="862" rx="5" ry="7.5" transform="rotate(25 911 862)"/><ellipse cx="904" cy="884" rx="5" ry="7.5" transform="rotate(25 904 884)"/><ellipse cx="894" cy="908" rx="5" ry="7.5" transform="rotate(25 894 908)"/><ellipse cx="911" cy="910" rx="5" ry="7.5" transform="rotate(25 911 910)"/><ellipse cx="928" cy="913" rx="5" ry="7.5" transform="rotate(25 928 913)"/><ellipse cx="892" cy="932" rx="5" ry="7.5" transform="rotate(25 892 932)"/><ellipse cx="911" cy="935" rx="5" ry="7.5" transform="rotate(25 911 935)"/><ellipse cx="887" cy="956" rx="5" ry="7.5" transform="rotate(25 887 956)"/><ellipse cx="904" cy="956" rx="5" ry="7.5" transform="rotate(25 904 956)"/><ellipse cx="920" cy="961" rx="5" ry="7.5" transform="rotate(25 920 961)"/><ellipse cx="889" cy="980" rx="5" ry="7.5" transform="rotate(25 889 980)"/><ellipse cx="904" cy="985" rx="5" ry="7.5" transform="rotate(25 904 985)"/><ellipse cx="923" cy="990" rx="5" ry="7.5" transform="rotate(25 923 990)"/><ellipse cx="937" cy="992" rx="5" ry="7.5" transform="rotate(25 937 992)"/><ellipse cx="894" cy="1006" rx="5" ry="7.5" transform="rotate(25 894 1006)"/><ellipse cx="911" cy="1012" rx="5" ry="7.5" transform="rotate(25 911 1012)"/><ellipse cx="928" cy="1014" rx="5" ry="7.5" transform="rotate(25 928 1014)"/><ellipse cx="904" cy="1033" rx="5" ry="7.5" transform="rotate(25 904 1033)"/><ellipse cx="920" cy="1035" rx="5" ry="7.5" transform="rotate(25 920 1035)"/><ellipse cx="937" cy="1038" rx="5" ry="7.5" transform="rotate(25 937 1038)"/><ellipse cx="955" cy="1040" rx="5" ry="7.5" transform="rotate(25 955 1040)"/>
<ellipse cx="1008" cy="690" rx="7" ry="11" transform="rotate(25 1008 690)"/><ellipse cx="1160" cy="802" rx="7" ry="11" transform="rotate(25 1160 802)"/>
<ellipse cx="860" cy="995" rx="7" ry="11" transform="rotate(25 860 995)"/><ellipse cx="1008" cy="1065" rx="7" ry="11" transform="rotate(25 1008 1065)"/>

<!-- 725 bracket -->
<path d="M1245,855 C1225,835 1200,838 1185,855 C1175,868 1168,880 1160,895 L1078,1040 C1062,1070 1065,1100 1090,1115 L1110,1112 L1160,1040 L1200,1060 L1225,1062"/>
<path d="M1250,800 L1272,815 L1278,860 L1265,990 L1228,1062 L1100,1162 L1090,1150 L1215,1055 M1272,815 L1262,860 L1255,985 M1245,855 L1250,800"/>
<path d="M1195,880 L1215,868 L1232,880 L1232,910 L1212,925 L1195,912 Z M1215,868 V925"/>
<path d="M1245,885 L1255,890 L1225,950 L1212,945 Z M1240,900 L1222,940 M1200,955 L1245,985"/>
<path d="M1100,1050 L1122,1038 L1140,1050 L1140,1080 L1118,1095 L1100,1082 Z M1122,1038 V1095 M1150,1040 L1165,1045 L1120,1110"/>
<!-- leaders -->
<path d="M1418,612 L1230,940 M1218,985 L1332,1085" style="stroke:#000;stroke-width:2"/>
</g>
<g transform="translate(1049.66,1480.85) scale(0.03079,0.03409)">
<path d="M820,330 L1045,330 L1180,360 L1225,410 L1240,545 L1060,650 L910,650 L760,610 L660,490 L650,450 L700,390 L760,355 Z"/>
<path d="M650,450 L640,650 M1245,480 L1235,720 M750,610 V800 M1035,655 V830 M750,800 L900,800 L910,830 L1060,830 L1230,735"/>
<path d="M640,640 L615,650 L615,775 L650,780 L710,840 L750,840 M1270,610 L1310,680 L1305,750 L1250,830 L1130,860 M660,700 C640,720 660,760 690,780 M760,840 L780,880 L1110,880 L1130,860"/>
<path d="M765,860 V1330 M1135,880 V1275 M790,920 L850,950 L1050,950 L1100,910 M850,905 H1050 M790,1000 L830,1030 L930,1035 L940,1070 L1040,1070 L1110,990 M790,1120 L830,1150 L930,1155 L940,1185 L1010,1185 L1110,1110 M790,1240 L830,1265 L930,1270 L940,1300 L1010,1300 L1110,1230 M770,1330 L800,1350 L870,1360 L885,1385 L1010,1385 L1040,1350 L1130,1325 M800,1350 L820,1430 L860,1480 L1045,1480 L1065,1420 L1100,1340"/>
</g>
<!-- 676 : origin 1375,1660 scale 0.12 -->
<g transform="translate(1375,1660) scale(0.12)">
<ellipse cx="465" cy="682" rx="330" ry="530" transform="rotate(22 465 682)"/>
<path d="M560,185 C380,250 150,600 130,850 C125,980 160,1090 230,1150"/>
<path d="M800,470 L720,430 C660,390 600,350 520,365 C400,400 260,600 245,780 C240,900 270,970 330,1010 L450,1092 L470,1115 L520,1100"/>
<ellipse cx="600" cy="765" rx="212" ry="342" transform="rotate(22 600 765)"/>
<path d="M760,480 C700,470 600,520 520,620 M480,670 C400,800 380,980 460,1070"/>
<path d="M760,480 L800,455 L805,500"/>
<ellipse cx="625" cy="780" rx="128" ry="200" transform="rotate(22 625 780)"/>
<ellipse cx="630" cy="785" rx="108" ry="178" transform="rotate(22 630 785)"/>
<path d="M650,650 L700,655 L735,720 L720,840 L650,930 L570,950 L540,900 L550,760 Z"/>
<path d="M680,680 C670,760 620,840 560,880 M685,690 C690,770 640,860 565,895"/>
<ellipse cx="475" cy="292" rx="24" ry="42" transform="rotate(32 475 292)"/><path d="M460,315 L490,270"/>
<ellipse cx="170" cy="880" rx="24" ry="42" transform="rotate(22 170 880)"/><path d="M158,905 L182,855"/>
</g>
<!-- 676A : origin 1598,1660 -->
<g transform="translate(1598,1660) scale(0.12)">
<path d="M225,760 L150,620 L155,520 C200,400 330,250 450,195 C520,165 600,155 660,180 C740,210 790,300 805,400 L810,470"/>
<path d="M250,750 L180,610 L182,530 C230,420 340,280 450,220 C520,190 600,180 650,192"/>
<path d="M180,610 L240,585 L300,530 C360,450 430,370 500,345 L600,345 L760,440"/>
<path d="M240,585 L400,692 L460,640 M300,530 L465,625 C520,540 600,470 680,450 C740,440 800,470 830,520"/>
<path d="M470,640 C520,560 600,480 690,462 C780,450 850,520 860,640 C865,760 800,950 700,1060 C660,1110 620,1140 580,1160 L430,1180 L270,1240 L255,1255"/>
<path d="M225,760 L265,770 L400,700 L470,640 M235,770 V1190 M265,770 V1245"/>
<path d="M235,1060 L160,1105 L155,1200 L250,1255 M160,1105 L235,1185 M178,1165 V1212 M178,1165 L235,1200"/>
<ellipse cx="440" cy="290" rx="25" ry="42" transform="rotate(25 440 290)"/><ellipse cx="605" cy="240" rx="24" ry="40" transform="rotate(15 605 240)"/>
<ellipse cx="725" cy="318" rx="25" ry="42" transform="rotate(30 725 318)"/><ellipse cx="275" cy="450" rx="27" ry="40" transform="rotate(20 275 450)"/>
<path d="M470,885 L540,810 L600,720 L660,735 L740,702 L738,765 L660,830 L610,900 L545,885 L470,920 Z M540,810 L735,712 M545,885 L738,765"/>
<circle cx="682" cy="828" r="14" class="k"/>
</g>
<!-- 676B : origin 1800,1660 -->
<g transform="translate(1800,1660) scale(0.12)">
<ellipse cx="517" cy="648" rx="330" ry="522" transform="rotate(22 517 648)"/>
<path d="M620,165 C430,220 200,560 175,830 C165,960 200,1060 260,1110"/>
<path d="M740,345 C640,290 430,410 330,640 C270,800 290,940 400,1010 L480,1050"/>
<ellipse cx="640" cy="715" rx="222" ry="352" transform="rotate(22 640 715)"/>
<ellipse cx="655" cy="730" rx="195" ry="318" transform="rotate(22 655 730)"/>
<path d="M510,665 L790,490 L850,560 L460,790 M470,810 L855,585 M505,690 L520,760 M500,820 L810,640 L855,690 M455,940 L840,705 M465,960 L835,725 M510,830 L520,900 M850,500 V690" />
<ellipse cx="675" cy="235" rx="24" ry="46" transform="rotate(18 675 235)"/><path d="M667,265 L685,205"/><ellipse cx="525" cy="275" rx="24" ry="46" transform="rotate(22 525 275)"/><path d="M517,305 L535,245"/><ellipse cx="783" cy="300" rx="24" ry="46" transform="rotate(25 783 300)"/><path d="M775,330 L793,270"/><ellipse cx="380" cy="425" rx="24" ry="46" transform="rotate(22 380 425)"/><path d="M372,455 L390,395"/><ellipse cx="275" cy="628" rx="24" ry="46" transform="rotate(20 275 628)"/><path d="M267,658 L285,598"/><ellipse cx="232" cy="842" rx="24" ry="46" transform="rotate(22 232 842)"/><path d="M224,872 L242,812"/><ellipse cx="273" cy="1000" rx="24" ry="46" transform="rotate(28 273 1000)"/><path d="M265,1030 L283,970"/><ellipse cx="383" cy="1072" rx="24" ry="46" transform="rotate(28 383 1072)"/><path d="M375,1102 L393,1042"/>
</g>
<path d="M1528.0,1762.8 L1529.7,1765.4 L1539.3,1772.1 M1531.6,1757.6 L1534.7,1758.4 L1544.3,1765.1 M1528.0,1762.8 L1528.6,1763.0 L1529.5,1762.8 L1530.4,1762.2 L1531.3,1761.2 L1531.9,1760.1 L1532.1,1759.1 L1532.1,1758.1 L1531.6,1757.6 L1531.0,1757.4 L1530.1,1757.6 L1529.2,1758.2 L1528.3,1759.2 L1527.7,1760.3 L1527.5,1761.3 L1527.5,1762.3 L1528.0,1762.8 Z M1530.9,1765.9 L1529.8,1765.8 L1529.0,1765.0 L1528.9,1763.7 L1529.3,1762.1 L1530.1,1760.4 L1531.4,1759.0 L1532.8,1758.1 L1534.1,1757.8 L1535.1,1758.2 L1535.6,1759.3 M1532.9,1767.4 L1531.8,1767.2 L1531.1,1766.5 L1530.9,1765.1 L1531.3,1763.5 L1532.2,1761.9 L1533.4,1760.5 L1534.8,1759.5 L1536.1,1759.3 L1537.1,1759.7 L1537.6,1760.7 M1535.0,1768.8 L1533.8,1768.7 L1533.1,1767.9 L1532.9,1766.6 L1533.3,1764.9 L1534.2,1763.3 L1535.5,1761.9 L1536.9,1761.0 L1538.2,1760.7 L1539.1,1761.1 L1539.6,1762.1 M1537.0,1770.2 L1535.9,1770.1 L1535.1,1769.3 L1535.0,1768.0 L1535.4,1766.4 L1536.2,1764.7 L1537.5,1763.3 L1538.9,1762.4 L1540.2,1762.1 L1541.2,1762.5 L1541.7,1763.5 M1539.0,1771.6 L1537.9,1771.5 L1537.2,1770.7 L1537.0,1769.4 L1537.4,1767.8 L1538.3,1766.1 L1539.5,1764.7 L1540.9,1763.8 L1542.2,1763.5 L1543.2,1763.9 L1543.7,1765.0 M1538.4,1773.5 L1539.4,1773.9 L1540.6,1773.7 L1542.0,1773.0 L1543.3,1771.9 L1544.5,1770.5 L1545.4,1768.9 L1546.0,1767.2 L1546.2,1765.7 L1545.9,1764.5 L1545.2,1763.7 L1544.2,1763.3 L1543.0,1763.5 L1541.6,1764.2 L1540.3,1765.3 L1539.1,1766.7 L1538.2,1768.3 L1537.6,1770.0 L1537.4,1771.5 L1537.7,1772.7 L1538.4,1773.5 Z M1540.3,1774.7 L1539.4,1774.2 L1538.9,1773.3 L1538.7,1772.1 L1538.9,1770.7 L1539.5,1769.1 L1540.4,1767.6 L1541.5,1766.3 L1542.8,1765.2 L1544.1,1764.5 L1545.3,1764.3 L1546.3,1764.4 L1547.0,1765.1 M1544.1,1777.7 L1549.3,1776.7 L1553.6,1770.5 L1552.9,1765.3 L1547.7,1766.3 L1543.4,1772.5 Z M1544.1,1777.7 L1539.1,1775.6 M1552.9,1765.3 L1547.8,1763.1 M1547.7,1766.3 L1542.7,1764.1 M1543.4,1772.5 L1538.3,1770.4 M1547.8,1763.1 L1542.7,1764.1 L1538.3,1770.4 L1539.1,1775.6 M1728.2,1731.0 L1729.9,1733.6 L1739.5,1740.3 M1731.8,1725.8 L1734.9,1726.6 L1744.5,1733.3 M1728.2,1731.0 L1728.8,1731.2 L1729.7,1731.0 L1730.6,1730.4 L1731.5,1729.4 L1732.1,1728.3 L1732.3,1727.3 L1732.3,1726.3 L1731.8,1725.8 L1731.2,1725.6 L1730.3,1725.8 L1729.4,1726.4 L1728.5,1727.4 L1727.9,1728.5 L1727.7,1729.5 L1727.7,1730.5 L1728.2,1731.0 Z M1731.1,1734.1 L1730.0,1734.0 L1729.2,1733.2 L1729.1,1731.9 L1729.5,1730.3 L1730.3,1728.6 L1731.6,1727.2 L1733.0,1726.3 L1734.3,1726.0 L1735.3,1726.4 L1735.8,1727.5 M1733.1,1735.6 L1732.0,1735.4 L1731.3,1734.7 L1731.1,1733.3 L1731.5,1731.7 L1732.4,1730.1 L1733.6,1728.7 L1735.0,1727.7 L1736.3,1727.5 L1737.3,1727.9 L1737.8,1728.9 M1735.2,1737.0 L1734.0,1736.9 L1733.3,1736.1 L1733.1,1734.8 L1733.5,1733.1 L1734.4,1731.5 L1735.7,1730.1 L1737.1,1729.2 L1738.4,1728.9 L1739.3,1729.3 L1739.8,1730.3 M1737.2,1738.4 L1736.1,1738.3 L1735.3,1737.5 L1735.2,1736.2 L1735.6,1734.6 L1736.4,1732.9 L1737.7,1731.5 L1739.1,1730.6 L1740.4,1730.3 L1741.4,1730.7 L1741.9,1731.7 M1739.2,1739.8 L1738.1,1739.7 L1737.4,1738.9 L1737.2,1737.6 L1737.6,1736.0 L1738.5,1734.3 L1739.7,1732.9 L1741.1,1732.0 L1742.4,1731.7 L1743.4,1732.1 L1743.9,1733.2 M1738.6,1741.7 L1739.6,1742.1 L1740.8,1741.9 L1742.2,1741.2 L1743.5,1740.1 L1744.7,1738.7 L1745.6,1737.1 L1746.2,1735.4 L1746.4,1733.9 L1746.1,1732.7 L1745.4,1731.9 L1744.4,1731.5 L1743.2,1731.7 L1741.8,1732.4 L1740.5,1733.5 L1739.3,1734.9 L1738.4,1736.5 L1737.8,1738.2 L1737.6,1739.7 L1737.9,1740.9 L1738.6,1741.7 Z M1740.5,1742.9 L1739.6,1742.4 L1739.1,1741.5 L1738.9,1740.3 L1739.1,1738.9 L1739.7,1737.3 L1740.6,1735.8 L1741.7,1734.5 L1743.0,1733.4 L1744.3,1732.7 L1745.5,1732.5 L1746.5,1732.6 L1747.2,1733.3 M1743.6,1746.2 L1748.8,1745.2 L1753.1,1739.0 L1752.4,1733.8 L1747.2,1734.8 L1742.9,1741.0 Z M1743.6,1746.2 L1739.1,1743.8 M1752.4,1733.8 L1747.9,1731.4 M1747.2,1734.8 L1742.7,1732.4 M1742.9,1741.0 L1738.4,1738.6 M1747.9,1731.4 L1742.7,1732.4 L1738.4,1738.6 L1739.1,1743.8 M1949.4,1736.5 L1951.4,1739.2 L1962.0,1746.4 M1953.0,1731.1 L1956.3,1732.0 L1966.8,1739.2 M1949.4,1736.5 L1950.1,1736.6 L1951.0,1736.4 L1951.9,1735.7 L1952.7,1734.8 L1953.2,1733.7 L1953.5,1732.6 L1953.4,1731.7 L1953.0,1731.1 L1952.3,1731.0 L1951.4,1731.2 L1950.5,1731.9 L1949.7,1732.8 L1949.2,1733.9 L1948.9,1735.0 L1949.0,1735.9 L1949.4,1736.5 Z M1952.6,1739.7 L1951.5,1739.6 L1950.7,1738.8 L1950.5,1737.5 L1950.9,1735.9 L1951.8,1734.2 L1953.0,1732.8 L1954.4,1731.8 L1955.7,1731.5 L1956.7,1731.9 L1957.2,1733.0 M1954.8,1741.2 L1953.7,1741.1 L1953.0,1740.3 L1952.8,1739.0 L1953.1,1737.4 L1954.0,1735.7 L1955.2,1734.3 L1956.6,1733.4 L1957.9,1733.1 L1958.9,1733.5 L1959.4,1734.5 M1957.1,1742.7 L1955.9,1742.6 L1955.2,1741.8 L1955.0,1740.5 L1955.4,1738.9 L1956.2,1737.2 L1957.5,1735.8 L1958.9,1734.9 L1960.2,1734.6 L1961.1,1735.0 L1961.7,1736.0 M1959.3,1744.3 L1958.2,1744.2 L1957.4,1743.4 L1957.2,1742.1 L1957.6,1740.4 L1958.5,1738.8 L1959.7,1737.3 L1961.1,1736.4 L1962.4,1736.1 L1963.4,1736.5 L1963.9,1737.5 M1961.5,1745.8 L1960.4,1745.7 L1959.7,1744.9 L1959.5,1743.6 L1959.8,1742.0 L1960.7,1740.3 L1962.0,1738.9 L1963.3,1737.9 L1964.6,1737.6 L1965.6,1738.0 L1966.1,1739.1 M1961.0,1747.8 L1962.0,1748.1 L1963.3,1747.9 L1964.6,1747.2 L1965.9,1746.1 L1967.1,1744.7 L1968.0,1743.0 L1968.6,1741.4 L1968.7,1739.9 L1968.5,1738.7 L1967.8,1737.8 L1966.8,1737.5 L1965.5,1737.7 L1964.2,1738.4 L1962.9,1739.5 L1961.7,1740.9 L1960.8,1742.6 L1960.2,1744.2 L1960.1,1745.7 L1960.3,1746.9 L1961.0,1747.8 Z M1963.0,1748.9 L1962.1,1748.5 L1961.6,1747.6 L1961.4,1746.4 L1961.6,1744.9 L1962.1,1743.4 L1963.0,1741.8 L1964.1,1740.5 L1965.3,1739.4 L1966.6,1738.7 L1967.8,1738.4 L1968.8,1738.6 L1969.6,1739.2 M1966.2,1752.3 L1971.4,1751.2 L1975.6,1744.9 L1974.8,1739.7 L1969.6,1740.8 L1965.4,1747.1 Z M1966.2,1752.3 L1961.6,1749.9 M1974.8,1739.7 L1970.2,1737.3 M1969.6,1740.8 L1965.1,1738.4 M1965.4,1747.1 L1960.8,1744.7 M1970.2,1737.3 L1965.1,1738.4 L1960.8,1744.7 L1961.6,1749.9" style="stroke-width:1.15"/>
<!-- 303, 298, 301 : origin 200,2180 scale .285714 -->
<g transform="translate(200,2180) scale(0.285714)">
<path d="M612,285 C610,200 630,100 680,55 C720,20 780,25 830,50 L900,82"/>
<path d="M625,280 C620,200 640,110 685,65"/>
<path d="M612,285 C615,330 680,362 730,354 C780,347 815,322 810,292 M618,275 C625,315 680,342 730,337 C770,332 800,312 805,292 M708,190 C720,230 750,262 792,277"/>
<ellipse cx="865" cy="188" rx="76" ry="116" transform="rotate(15 865 188)"/>
<ellipse cx="868" cy="190" rx="62" ry="98" transform="rotate(15 868 190)"/>
<ellipse cx="866" cy="188" rx="48" ry="80" transform="rotate(15 866 188)"/>
<path d="M835,130 C815,180 820,240 850,262 M845,120 C828,175 832,235 860,255 M855,115 C840,170 845,228 870,248 M870,112 C855,165 858,222 882,240"/>
<path d="M1172.7,322.1 L1183.4,326.0 L1168.3,358.6 L1159.3,350.9 L1117.5,398.3 L1121.1,412.2 L1095.1,426.2 L1094.5,410.8 L1046.2,412.3 L1040.5,427.9 L1018.9,415.3 L1027.1,401.1 L1000.6,355.8 L988.9,364.1 L984.4,332.1 L996.5,327.5 L1007.3,261.9 L996.6,258.0 L1011.7,225.4 L1020.7,233.1 L1062.5,185.7 L1058.9,171.8 L1084.9,157.8 L1085.5,173.2 L1133.8,171.7 L1139.5,156.1 L1161.1,168.7 L1152.9,182.9 L1179.4,228.2 L1191.1,219.9 L1195.6,251.9 L1183.5,256.5 Z"/>
<ellipse cx="1098" cy="296" rx="66" ry="102" transform="rotate(20 1098 296)"/>
<ellipse cx="1090" cy="292" rx="76" ry="114" transform="rotate(20 1090 292)"/>
<path d="M1135,215 C1165,270 1130,360 1060,382"/>
<path d="M290,803 L800,1085 M194,977 L704,1259 M289.9,803.4 L276.2,798.6 L260.7,798.4 L244.4,802.8 L227.9,811.6 L212.1,824.3 L197.8,840.4 L185.7,858.9 L176.4,878.9 L170.5,899.5 L168.1,919.7 L169.4,938.3 L174.4,954.5 L182.8,967.5 L194.1,976.6 M309.2,814.0 L295.4,809.3 L280.0,809.1 L263.6,813.5 L247.1,822.3 L231.3,835.0 L217.0,851.0 L204.9,869.5 L195.7,889.6 L189.7,910.2 L187.3,930.3 L188.7,949.0 L193.6,965.2 L202.0,978.2 L213.3,987.3 M329.3,825.2 L315.6,820.4 L300.1,820.2 L283.7,824.6 L267.2,833.4 L251.4,846.1 L237.1,862.1 L225.1,880.6 L215.8,900.7 L209.9,921.3 L207.5,941.4 L208.8,960.1 L213.8,976.3 L222.1,989.3 L233.5,998.4 M355.5,839.7 L341.8,834.9 L326.4,834.7 L310.0,839.2 L293.5,847.9 L277.7,860.7 L263.4,876.7 L251.3,895.2 L242.1,915.2 L236.1,935.8 L233.7,956.0 L235.1,974.6 L240.0,990.8 L248.4,1003.8 L259.7,1012.9 M381.8,854.2 L368.1,849.4 L352.6,849.3 L336.2,853.7 L319.7,862.5 L303.9,875.2 L289.6,891.2 L277.6,909.7 L268.3,929.7 L262.4,950.3 L260.0,970.5 L261.3,989.1 L266.3,1005.4 L274.6,1018.4 L286.0,1027.5 M408.1,868.7 L394.3,864.0 L378.9,863.8 L362.5,868.2 L346.0,877.0 L330.2,889.7 L315.9,905.7 L303.8,924.2 L294.6,944.3 L288.6,964.9 L286.2,985.0 L287.6,1003.7 L292.5,1019.9 L300.9,1032.9 L312.2,1042.0 M438.7,885.7 L424.9,880.9 L409.5,880.7 L393.1,885.1 L376.6,893.9 L360.8,906.6 L346.5,922.6 L334.4,941.1 L325.2,961.2 L319.2,981.8 L316.9,1001.9 L318.2,1020.6 L323.2,1036.8 L331.5,1049.8 L342.8,1058.9 M686.1,1022.5 L672.4,1017.8 L656.9,1017.6 L640.6,1022.0 L624.1,1030.8 L608.3,1043.5 L594.0,1059.5 L581.9,1078.0 L572.6,1098.1 L566.7,1118.7 L564.3,1138.8 L565.6,1157.5 L570.6,1173.7 L579.0,1186.7 L590.3,1195.8 M712.4,1037.0 L698.6,1032.3 L683.2,1032.1 L666.8,1036.5 L650.3,1045.3 L634.5,1058.0 L620.2,1074.0 L608.1,1092.5 L598.9,1112.6 L592.9,1133.2 L590.5,1153.3 L591.9,1172.0 L596.8,1188.2 L605.2,1201.2 L616.5,1210.3 M743.0,1054.0 L729.3,1049.2 L713.8,1049.1 L697.4,1053.5 L680.9,1062.3 L665.1,1075.0 L650.8,1091.0 L638.8,1109.5 L629.5,1129.5 L623.6,1150.1 L621.2,1170.3 L622.5,1188.9 L627.5,1205.2 L635.8,1218.1 L647.2,1227.2 M769.2,1068.5 L755.5,1063.7 L740.1,1063.6 L723.7,1068.0 L707.2,1076.8 L691.4,1089.5 L677.1,1105.5 L665.0,1124.0 L655.8,1144.0 L649.8,1164.7 L647.4,1184.8 L648.8,1203.4 L653.7,1219.7 L662.1,1232.7 L673.4,1241.8 M704.1,1258.6 L717.8,1263.4 L733.3,1263.6 L749.6,1259.2 L766.1,1250.4 L781.9,1237.7 L796.2,1221.6 L808.3,1203.1 L817.6,1183.1 L823.5,1162.5 L825.9,1142.3 L824.6,1123.7 L819.6,1107.5 L811.2,1094.5 L799.9,1085.4 L786.2,1080.6 L770.7,1080.4 L754.4,1084.8 L737.9,1093.6 L722.1,1106.3 L707.8,1122.4 L695.7,1140.9 L686.4,1160.9 L680.5,1181.5 L678.1,1201.7 L679.4,1220.3 L684.4,1236.5 L692.8,1249.5 L704.1,1258.6 Z M722.4,1232.9 L733.4,1236.4 L745.9,1235.6 L759.0,1230.6 L771.9,1221.8 L783.6,1209.7 L793.3,1195.2 L800.4,1179.2 L804.5,1162.9 L805.1,1147.3 L802.4,1133.6 L796.4,1122.6 L787.6,1115.1 L776.6,1111.6 L764.1,1112.4 L751.0,1117.4 L738.1,1126.2 L726.4,1138.3 L716.7,1152.8 L709.6,1168.8 L705.5,1185.1 L704.9,1200.7 L707.6,1214.4 L713.6,1225.4 L722.4,1232.9 Z"/>
</g>
<!-- 300B : origin 540,2240 scale .262857 -->
<g transform="translate(540,2240) scale(0.262857)">
<path d="M166,152 L880,570 M84,292 L790,715" style="stroke-width:1.45"/>
<path d="M165.9,152.1 L155.5,148.4 L143.7,148.4 L130.8,152.0 L117.7,159.2 L105.0,169.6 L93.2,182.5 L83.1,197.5 L75.0,213.6 L69.5,230.2 L66.7,246.4 L66.9,261.4 L69.9,274.3 L75.8,284.7 L84.1,291.9 M183.2,162.2 L172.8,158.5 L160.9,158.5 L148.1,162.1 L135.0,169.3 L122.2,179.7 L110.5,192.6 L100.3,207.6 L92.3,223.7 L86.7,240.3 L84.0,256.5 L84.1,271.5 L87.2,284.4 L93.0,294.8 L101.4,302.0 M202.2,173.3 L191.8,169.6 L179.9,169.6 L167.1,173.3 L154.0,180.4 L141.2,190.8 L129.5,203.7 L119.3,218.7 L111.3,234.8 L105.7,251.4 L103.0,267.6 L103.1,282.6 L106.2,295.5 L112.0,305.9 L120.3,313.1 M224.6,186.4 L214.2,182.7 L202.3,182.7 L189.5,186.4 L176.4,193.6 L163.6,203.9 L151.9,216.9 L141.7,231.8 L133.7,248.0 L128.1,264.6 L125.4,280.7 L125.6,295.7 L128.6,308.7 L134.5,319.0 L142.8,326.2 M247.9,200.1 L237.5,196.4 L225.6,196.3 L212.8,200.0 L199.7,207.2 L186.9,217.5 L175.2,230.5 L165.0,245.4 L157.0,261.6 L151.4,278.2 L148.7,294.4 L148.9,309.3 L151.9,322.3 L157.8,332.7 L166.1,339.9 M273.8,215.2 L263.4,211.5 L251.5,211.5 L238.7,215.2 L225.6,222.4 L212.8,232.7 L201.1,245.6 L190.9,260.6 L182.9,276.8 L177.3,293.3 L174.6,309.5 L174.7,324.5 L177.8,337.5 L183.7,347.8 L192.0,355.0 M299.7,230.4 L289.3,226.7 L277.4,226.6 L264.6,230.3 L251.5,237.5 L238.7,247.8 L227.0,260.8 L216.8,275.7 L208.8,291.9 L203.2,308.5 L200.5,324.7 L200.6,339.6 L203.7,352.6 L209.6,363.0 L217.9,370.2" style="stroke-width:1.45"/>
</g>
<g transform="translate(740,2340) scale(0.125714)" class="thick">
<path d="M985,225 L830,135 C760,100 650,100 540,160 C400,240 250,400 140,560 C50,720 0,900 10,1050 C20,1150 50,1220 80,1260 L170,1340 L290,1410"/>
<path d="M1100,232 C1000,222 880,260 760,350 C600,480 420,700 320,930 C250,1100 240,1260 290,1400 C320,1480 380,1540 450,1580 L540,1600 L620,1595 L870,1745 C900,1760 960,1762 1000,1755"/>
<path d="M1110,250 C1000,240 890,280 780,365 C620,490 450,710 350,940 C280,1110 270,1260 310,1390 C340,1460 380,1510 430,1550"/>
<path d="M1290,395 C1200,300 1100,280 980,300 C860,330 700,450 560,640 C440,800 350,1000 335,1180 C330,1300 370,1400 440,1470 L600,1580"/>
<path d="M985,225 C1080,225 1200,260 1290,395 L1500,520 M1160,320 L1300,410"/>
<ellipse cx="1215" cy="1165" rx="381" ry="626" transform="rotate(25 1215 1165)"/>
<path d="M940,745 C1040,600 1200,500 1320,495 C1400,495 1460,505 1510,525"/>
<path d="M805,925 C720,1080 670,1250 680,1400 C690,1520 730,1620 800,1690 L860,1745"/>
<ellipse cx="1220" cy="1155" rx="215" ry="340" transform="rotate(30 1220 1155)"/>
<path d="M1228,737 L1242,755 L1228,773 L1214,755 Z"/><path d="M1578,932 L1592,950 L1578,968 L1564,950 Z"/><path d="M878,1342 L892,1360 L878,1378 L864,1360 Z"/><path d="M1228,1542 L1242,1560 L1228,1578 L1214,1560 Z"/><rect x="1357" y="1229" width="16" height="18" class="k"/><rect x="1253" y="1374" width="16" height="18" class="k"/><rect x="1348" y="1248" width="16" height="18" class="k"/><rect x="1404" y="1140" width="16" height="18" class="k"/><rect x="1343" y="1298" width="16" height="18" class="k"/><rect x="1406" y="1101" width="16" height="18" class="k"/><rect x="1445" y="1123" width="16" height="18" class="k"/><rect x="1260" y="1278" width="16" height="18" class="k"/><rect x="1269" y="1410" width="16" height="18" class="k"/><rect x="1320" y="1296" width="16" height="18" class="k"/><rect x="1368" y="1106" width="16" height="18" class="k"/><rect x="1286" y="1221" width="16" height="18" class="k"/><rect x="1379" y="1127" width="16" height="18" class="k"/><rect x="1431" y="1088" width="16" height="18" class="k"/><rect x="1392" y="1245" width="16" height="18" class="k"/><rect x="1352" y="1255" width="16" height="18" class="k"/><rect x="1358" y="1251" width="16" height="18" class="k"/><rect x="1322" y="1211" width="16" height="18" class="k"/><rect x="1267" y="1415" width="16" height="18" class="k"/><rect x="1287" y="1358" width="16" height="18" class="k"/><rect x="1349" y="1165" width="16" height="18" class="k"/><rect x="1339" y="1147" width="16" height="18" class="k"/><rect x="1279" y="1320" width="16" height="18" class="k"/><rect x="1263" y="1346" width="16" height="18" class="k"/><rect x="1269" y="1399" width="16" height="18" class="k"/><rect x="1421" y="1069" width="16" height="18" class="k"/><rect x="1256" y="1370" width="16" height="18" class="k"/><rect x="1238" y="1390" width="16" height="18" class="k"/><rect x="1435" y="1109" width="16" height="18" class="k"/><rect x="1266" y="1318" width="16" height="18" class="k"/><rect x="1410" y="1100" width="16" height="18" class="k"/><rect x="1262" y="1397" width="16" height="18" class="k"/><rect x="1396" y="1106" width="16" height="18" class="k"/><rect x="1386" y="1092" width="16" height="18" class="k"/><rect x="1256" y="1320" width="16" height="18" class="k"/><rect x="1323" y="1256" width="16" height="18" class="k"/><rect x="1422" y="1153" width="16" height="18" class="k"/><rect x="1425" y="1129" width="16" height="18" class="k"/><rect x="1410" y="1114" width="16" height="18" class="k"/><rect x="1377" y="1136" width="16" height="18" class="k"/>
<path d="M1440,1370 L1520,1250 M1455,1378 L1532,1262 M1428,1360 L1505,1245" style="stroke-width:1.8"/>
</g>
<!-- 832 contents -->
<g transform="translate(1437.1,2050.6) scale(0.12)">
<path d="M225,760 L150,620 L155,520 C200,400 330,250 450,195 C520,165 600,155 660,180 C740,210 790,300 805,400 L810,470"/>
<path d="M250,750 L180,610 L182,530 C230,420 340,280 450,220 C520,190 600,180 650,192"/>
<path d="M180,610 L240,585 L300,530 C360,450 430,370 500,345 L600,345 L760,440"/>
<path d="M240,585 L400,692 L460,640 M300,530 L465,625 C520,540 600,470 680,450 C740,440 800,470 830,520"/>
<path d="M470,640 C520,560 600,480 690,462 C780,450 850,520 860,640 C865,760 800,950 700,1060 C660,1110 620,1140 580,1160 L430,1180 L270,1240 L255,1255"/>
<path d="M225,760 L265,770 L400,700 L470,640 M235,770 V1190 M265,770 V1245"/>
<path d="M235,1060 L160,1105 L155,1200 L250,1255 M160,1105 L235,1185 M178,1165 V1212 M178,1165 L235,1200"/>
<ellipse cx="440" cy="290" rx="25" ry="42" transform="rotate(25 440 290)"/><ellipse cx="605" cy="240" rx="24" ry="40" transform="rotate(15 605 240)"/>
<ellipse cx="725" cy="318" rx="25" ry="42" transform="rotate(30 725 318)"/><ellipse cx="275" cy="450" rx="27" ry="40" transform="rotate(20 275 450)"/>
<path d="M470,885 L540,810 L600,720 L660,735 L740,702 L738,765 L660,830 L610,900 L545,885 L470,920 Z M540,810 L735,712 M545,885 L738,765"/>
<circle cx="682" cy="828" r="14" class="k"/>
</g>
<g transform="translate(1540,2100) scale(0.166667)">
<path d="M72,230 L165,163 L240,205 M72,230 L225,320 L245,325 V185 L330,125 L1110,595 L1115,625 L1025,685 L1010,655 M245,325 L320,280 V235"/>
<path d="M245,185 L1015,655 M335,178 L1090,630 M325,200 L1030,640 M335,178 C318,175 312,190 325,200 M590,395 L760,500" />
<path d="M130,215 C125,205 140,200 150,205 L200,232 C210,240 200,250 190,247 L140,222 Z"/>
<path d="M205,625 L770,980 C800,1000 805,1020 805,1060 L805,1990" class="wo"/><path d="M205,625 L770,980 C800,1000 805,1020 805,1060 L805,1990" class="wi"/><path d="M845,1700 V1960" class="wo"/><path d="M845,1700 V1960" class="wi"/><path d="M205,625 L735,285 C780,265 820,290 828,340 L830,400" class="wo"/><path d="M205,625 L735,285 C780,265 820,290 828,340 L830,400" class="wi"/><path d="M415,750 L930,420 C980,395 1025,420 1030,470 L1035,530" class="wo"/><path d="M415,750 L930,420 C980,395 1025,420 1030,470 L1035,530" class="wi"/><path d="M630,885 L1140,560 C1195,535 1240,560 1245,620 L1248,1010" class="wo"/><path d="M630,885 L1140,560 C1195,535 1240,560 1245,620 L1248,1010" class="wi"/><path d="M770,975 L1285,645 C1340,615 1380,650 1385,710 L1385,1450 C1380,1560 1330,1640 1250,1690 L860,1940" class="wo"/><path d="M770,975 L1285,645 C1340,615 1380,650 1385,710 L1385,1450 C1380,1560 1330,1640 1250,1690 L860,1940" class="wi"/><path d="M1075,935 C1055,920 1060,890 1085,880 L1215,870 C1260,860 1285,885 1288,930 L1290,1320 C1285,1400 1250,1460 1200,1500 L815,1740" class="wo"/><path d="M1075,935 C1055,920 1060,890 1085,880 L1215,870 C1260,860 1285,885 1288,930 L1290,1320 C1285,1400 1250,1460 1200,1500 L815,1740" class="wi"/><path d="M810,1115 L1310,775 C1330,760 1330,735 1310,720 L1245,690" class="wo"/><path d="M810,1115 L1310,775 C1330,760 1330,735 1310,720 L1245,690" class="wi"/><path d="M1235,990 L1385,1085 L1085,1290 C1060,1295 1055,1320 1075,1330" class="wo"/><path d="M1235,990 L1385,1085 L1085,1290 C1060,1295 1055,1320 1075,1330" class="wi"/><path d="M1180,1525 L850,1715" class="wo"/><path d="M1180,1525 L850,1715" class="wi"/><path d="M620,1895 L790,1990 M650,1872 L800,1958 M620,1895 L805,1780 M665,1868 L845,1760" class="wo"/><path d="M620,1895 L790,1990 M650,1872 L800,1958 M620,1895 L805,1780 M665,1868 L845,1760" class="wi"/><path d="M725,1480 C690,1490 685,1530 705,1545 L700,1580 C720,1640 760,1660 800,1670" class="wo"/><path d="M725,1480 C690,1490 685,1530 705,1545 L700,1580 C720,1640 760,1660 800,1670" class="wi"/>
<!-- 237 clip -->
</g>
<g transform="translate(1360,2035) scale(0.297143)">
<path d="M608,800 L650,778 L705,815 L705,830 L688,840 L688,945 L705,930 L705,945 L680,958 L608,912 Z M608,800 L665,835 L665,948 M665,835 L705,815 M665,850 L688,840"/>
<ellipse cx="637" cy="880" rx="11" ry="17" transform="rotate(-20 637 880)"/><path d="M630,870 L645,892"/>
</g>
<path d="M1522.2,2319.3 L1517.6,2320.8 L1501.7,2330.4 M1525.8,2325.3 L1522.4,2328.6 L1506.5,2338.2 M1522.2,2319.3 L1521.7,2319.9 L1521.6,2320.9 L1521.8,2322.1 L1522.4,2323.3 L1523.2,2324.3 L1524.1,2325.1 L1525.0,2325.4 L1525.8,2325.3 L1526.3,2324.7 L1526.4,2323.7 L1526.2,2322.5 L1525.6,2321.3 L1524.8,2320.3 L1523.9,2319.5 L1523.0,2319.2 L1522.2,2319.3 Z M1517.9,2320.9 L1518.6,2319.8 L1519.6,2319.4 L1521.0,2319.8 L1522.4,2320.9 L1523.7,2322.5 L1524.5,2324.3 L1524.8,2326.1 L1524.5,2327.5 L1523.7,2328.3 L1522.4,2328.3 M1515.7,2322.2 L1516.3,2321.1 L1517.4,2320.8 L1518.8,2321.2 L1520.2,2322.3 L1521.4,2323.9 L1522.3,2325.7 L1522.6,2327.4 L1522.3,2328.8 L1521.4,2329.6 L1520.2,2329.7 M1513.5,2323.6 L1514.1,2322.5 L1515.2,2322.1 L1516.5,2322.5 L1518.0,2323.6 L1519.2,2325.2 L1520.0,2327.0 L1520.3,2328.8 L1520.0,2330.2 L1519.2,2331.0 L1518.0,2331.0 M1511.2,2324.9 L1511.9,2323.8 L1512.9,2323.5 L1514.3,2323.9 L1515.7,2325.0 L1516.9,2326.6 L1517.8,2328.4 L1518.1,2330.1 L1517.8,2331.5 L1517.0,2332.3 L1515.7,2332.4 M1509.0,2326.3 L1509.6,2325.2 L1510.7,2324.8 L1512.1,2325.2 L1513.5,2326.3 L1514.7,2327.9 L1515.5,2329.7 L1515.8,2331.5 L1515.6,2332.9 L1514.7,2333.7 L1513.5,2333.7 M1506.8,2327.6 L1507.4,2326.5 L1508.5,2326.2 L1509.8,2326.6 L1511.2,2327.7 L1512.5,2329.2 L1513.3,2331.1 L1513.6,2332.8 L1513.3,2334.2 L1512.5,2335.0 L1511.3,2335.1 M1504.5,2329.0 L1505.1,2327.9 L1506.2,2327.5 L1507.6,2327.9 L1509.0,2329.0 L1510.2,2330.6 L1511.1,2332.4 L1511.4,2334.2 L1511.1,2335.6 L1510.3,2336.4 L1509.0,2336.4 M1502.3,2330.3 L1502.9,2329.2 L1504.0,2328.9 L1505.4,2329.3 L1506.8,2330.4 L1508.0,2331.9 L1508.8,2333.8 L1509.1,2335.5 L1508.8,2336.9 L1508.0,2337.7 L1506.8,2337.8 M1500.7,2328.7 L1500.0,2329.6 L1499.6,2330.9 L1499.7,2332.5 L1500.2,2334.3 L1501.0,2336.1 L1502.2,2337.8 L1503.6,2339.1 L1505.0,2339.9 L1506.3,2340.2 L1507.5,2339.9 L1508.2,2339.0 L1508.6,2337.7 L1508.5,2336.1 L1508.0,2334.3 L1507.2,2332.5 L1506.0,2330.8 L1504.6,2329.5 L1503.2,2328.7 L1501.9,2328.4 L1500.7,2328.7 Z M1498.8,2330.0 L1499.7,2329.4 L1500.8,2329.3 L1502.1,2329.6 L1503.4,2330.5 L1504.7,2331.7 L1505.8,2333.3 L1506.6,2335.0 L1507.1,2336.7 L1507.3,2338.3 L1507.0,2339.6 L1506.4,2340.5 L1505.4,2340.9 M1492.6,2331.3 L1491.3,2337.1 L1495.7,2344.3 L1501.4,2345.9 L1502.7,2340.1 L1498.3,2332.9 Z M1492.6,2331.3 L1497.9,2328.1 M1501.4,2345.9 L1506.7,2342.7 M1502.7,2340.1 L1508.0,2336.9 M1498.3,2332.9 L1503.6,2329.6 M1506.7,2342.7 L1508.0,2336.9 L1503.6,2329.6 L1497.9,2328.1 M1820.5,2363.1 L1822.5,2366.5 L1834.0,2375.8 M1825.7,2356.7 L1829.4,2357.9 L1841.0,2367.2 M1820.5,2363.1 L1821.4,2363.4 L1822.5,2363.2 L1823.7,2362.4 L1824.9,2361.3 L1825.7,2360.0 L1826.2,2358.6 L1826.2,2357.5 L1825.7,2356.7 L1824.8,2356.4 L1823.7,2356.6 L1822.5,2357.4 L1821.3,2358.5 L1820.5,2359.8 L1820.0,2361.2 L1820.0,2362.3 L1820.5,2363.1 Z M1824.0,2367.3 L1822.5,2367.0 L1821.7,2366.0 L1821.6,2364.3 L1822.2,2362.2 L1823.5,2360.2 L1825.2,2358.5 L1827.1,2357.5 L1828.7,2357.2 L1830.0,2357.8 L1830.5,2359.2 M1826.4,2369.3 L1825.0,2369.0 L1824.1,2367.9 L1824.0,2366.2 L1824.6,2364.2 L1825.9,2362.2 L1827.6,2360.5 L1829.5,2359.4 L1831.2,2359.2 L1832.4,2359.8 L1833.0,2361.1 M1828.9,2371.2 L1827.4,2371.0 L1826.6,2369.9 L1826.4,2368.2 L1827.1,2366.2 L1828.4,2364.1 L1830.1,2362.5 L1831.9,2361.4 L1833.6,2361.2 L1834.8,2361.8 L1835.4,2363.1 M1831.3,2373.2 L1829.9,2372.9 L1829.0,2371.9 L1828.9,2370.2 L1829.5,2368.1 L1830.8,2366.1 L1832.5,2364.4 L1834.4,2363.4 L1836.1,2363.1 L1837.3,2363.7 L1837.8,2365.1 M1833.7,2375.2 L1832.3,2374.9 L1831.4,2373.8 L1831.3,2372.1 L1832.0,2370.1 L1833.2,2368.1 L1835.0,2366.4 L1836.8,2365.3 L1838.5,2365.1 L1839.7,2365.7 L1840.3,2367.0 M1832.5,2377.7 L1833.8,2378.3 L1835.5,2378.2 L1837.3,2377.4 L1839.2,2376.1 L1840.9,2374.3 L1842.3,2372.2 L1843.2,2370.1 L1843.6,2368.1 L1843.3,2366.4 L1842.5,2365.3 L1841.2,2364.7 L1839.5,2364.8 L1837.7,2365.6 L1835.8,2366.9 L1834.1,2368.7 L1832.7,2370.8 L1831.8,2372.9 L1831.4,2374.9 L1831.7,2376.6 L1832.5,2377.7 Z M1834.5,2379.2 L1833.4,2378.4 L1832.8,2377.2 L1832.7,2375.6 L1833.1,2373.7 L1834.0,2371.7 L1835.3,2369.7 L1836.9,2368.1 L1838.7,2366.7 L1840.5,2365.9 L1842.1,2365.7 L1843.4,2366.0 L1844.3,2366.9 M1841.2,2381.3 L1848.1,2380.4 L1854.3,2372.6 L1853.8,2365.7 L1846.9,2366.6 L1840.7,2374.4 Z M1841.2,2381.3 L1833.7,2379.8 M1853.8,2365.7 L1846.3,2364.2 M1846.9,2366.6 L1839.4,2365.1 M1840.7,2374.4 L1833.2,2372.9 M1846.3,2364.2 L1839.4,2365.1 L1833.2,2372.9 L1833.7,2379.8" style="stroke-width:1.15"/>
<!-- 994 -->
<g transform="translate(1870,2270) scale(0.125714)">
<path d="M800,625 L690,625 C620,640 550,680 510,705 L340,880 C280,960 230,1050 225,1130 L225,1390 C235,1480 290,1550 350,1580 C420,1600 520,1570 600,1530 M800,625 C870,640 915,680 920,720 V1000"/>
<path d="M660,640 L520,710 L350,890 C295,970 245,1060 240,1130 V1390 C250,1470 300,1540 350,1570"/>
<ellipse cx="797" cy="770" rx="17" ry="30" transform="rotate(25 797 770)"/><path d="M788,790 L806,750"/>
<ellipse cx="358" cy="1018" rx="19" ry="28" transform="rotate(15 358 1018)"/>
<ellipse cx="358" cy="1525" rx="15" ry="28" transform="rotate(22 358 1525)"/><path d="M350,1545 L366,1505"/>
<path d="M285,1060 L345,930 M300,1070 L355,945 M290,1000 L330,1020 M300,970 L350,990 M330,1040 L345,985"/>
<path d="M810,890 C740,820 640,810 560,870 C440,960 340,1150 340,1300 C340,1400 400,1460 470,1480"/>
<path d="M800,905 C735,840 645,830 568,888 C455,975 358,1155 358,1300 C358,1390 410,1445 475,1462"/>
<path d="M660,960 C720,920 800,905 860,940 C910,980 925,1050 915,1150 M480,1235 C455,1330 470,1430 520,1490 C560,1525 620,1525 680,1495"/>
<ellipse cx="718" cy="1240" rx="165" ry="278" transform="rotate(25 718 1240)"/>
<path d="M560,1065 L605,1015 M655,965 L690,940"/>
<rect x="777" y="1072" width="9" height="9" class="k"/><rect x="753" y="1064" width="9" height="9" class="k"/><rect x="767" y="1026" width="9" height="9" class="k"/><rect x="813" y="1039" width="9" height="9" class="k"/><rect x="774" y="1059" width="9" height="9" class="k"/><rect x="804" y="1034" width="9" height="9" class="k"/><rect x="790" y="1005" width="9" height="9" class="k"/><rect x="765" y="1020" width="9" height="9" class="k"/><rect x="749" y="1000" width="9" height="9" class="k"/><rect x="739" y="1029" width="9" height="9" class="k"/><rect x="770" y="1024" width="9" height="9" class="k"/><rect x="777" y="996" width="9" height="9" class="k"/><rect x="773" y="1043" width="9" height="9" class="k"/><rect x="794" y="1009" width="9" height="9" class="k"/><rect x="767" y="989" width="9" height="9" class="k"/><rect x="766" y="988" width="9" height="9" class="k"/><rect x="745" y="1063" width="9" height="9" class="k"/><rect x="737" y="1052" width="9" height="9" class="k"/><rect x="784" y="1024" width="9" height="9" class="k"/><rect x="788" y="1053" width="9" height="9" class="k"/><rect x="802" y="1028" width="9" height="9" class="k"/><rect x="759" y="1015" width="9" height="9" class="k"/><rect x="749" y="1034" width="9" height="9" class="k"/><rect x="756" y="1066" width="9" height="9" class="k"/><rect x="741" y="1011" width="9" height="9" class="k"/><rect x="758" y="991" width="9" height="9" class="k"/><rect x="801" y="996" width="9" height="9" class="k"/><rect x="767" y="1017" width="9" height="9" class="k"/><rect x="801" y="997" width="9" height="9" class="k"/><rect x="801" y="1014" width="9" height="9" class="k"/><rect x="771" y="1012" width="9" height="9" class="k"/><rect x="791" y="1002" width="9" height="9" class="k"/><rect x="773" y="1047" width="9" height="9" class="k"/><rect x="800" y="995" width="9" height="9" class="k"/><rect x="807" y="1059" width="9" height="9" class="k"/><rect x="761" y="1045" width="9" height="9" class="k"/><rect x="765" y="1078" width="9" height="9" class="k"/><rect x="781" y="1027" width="9" height="9" class="k"/><rect x="768" y="1028" width="9" height="9" class="k"/><rect x="770" y="1007" width="9" height="9" class="k"/><rect x="805" y="1001" width="9" height="9" class="k"/><rect x="733" y="1033" width="9" height="9" class="k"/><rect x="771" y="1048" width="9" height="9" class="k"/><rect x="769" y="1030" width="9" height="9" class="k"/><rect x="784" y="1065" width="9" height="9" class="k"/><rect x="762" y="1022" width="9" height="9" class="k"/><rect x="813" y="1047" width="9" height="9" class="k"/><rect x="759" y="1080" width="9" height="9" class="k"/><rect x="796" y="1016" width="9" height="9" class="k"/><rect x="746" y="1044" width="9" height="9" class="k"/><rect x="755" y="1004" width="9" height="9" class="k"/><rect x="744" y="1021" width="9" height="9" class="k"/><rect x="803" y="1022" width="9" height="9" class="k"/><rect x="743" y="1053" width="9" height="9" class="k"/><rect x="777" y="1063" width="9" height="9" class="k"/><rect x="805" y="1030" width="9" height="9" class="k"/><rect x="771" y="1033" width="9" height="9" class="k"/><rect x="747" y="1054" width="9" height="9" class="k"/><rect x="808" y="1040" width="9" height="9" class="k"/><rect x="768" y="1026" width="9" height="9" class="k"/><rect x="755" y="1010" width="9" height="9" class="k"/><rect x="764" y="1008" width="9" height="9" class="k"/><rect x="765" y="993" width="9" height="9" class="k"/><rect x="785" y="1037" width="9" height="9" class="k"/><rect x="757" y="991" width="9" height="9" class="k"/><rect x="775" y="1069" width="9" height="9" class="k"/><rect x="755" y="1019" width="9" height="9" class="k"/><rect x="760" y="1056" width="9" height="9" class="k"/><rect x="753" y="1063" width="9" height="9" class="k"/><rect x="767" y="1064" width="9" height="9" class="k"/><rect x="596" y="1374" width="9" height="9" class="k"/><rect x="552" y="1361" width="9" height="9" class="k"/><rect x="585" y="1414" width="9" height="9" class="k"/><rect x="604" y="1355" width="9" height="9" class="k"/><rect x="609" y="1425" width="9" height="9" class="k"/><rect x="589" y="1365" width="9" height="9" class="k"/><rect x="581" y="1419" width="9" height="9" class="k"/><rect x="613" y="1347" width="9" height="9" class="k"/><rect x="609" y="1364" width="9" height="9" class="k"/><rect x="572" y="1431" width="9" height="9" class="k"/><rect x="623" y="1356" width="9" height="9" class="k"/><rect x="598" y="1408" width="9" height="9" class="k"/><rect x="571" y="1380" width="9" height="9" class="k"/><rect x="613" y="1328" width="9" height="9" class="k"/><rect x="607" y="1417" width="9" height="9" class="k"/><rect x="611" y="1336" width="9" height="9" class="k"/><rect x="606" y="1349" width="9" height="9" class="k"/><rect x="615" y="1411" width="9" height="9" class="k"/><rect x="603" y="1352" width="9" height="9" class="k"/><rect x="575" y="1420" width="9" height="9" class="k"/><rect x="564" y="1405" width="9" height="9" class="k"/><rect x="614" y="1373" width="9" height="9" class="k"/><rect x="648" y="1387" width="9" height="9" class="k"/><rect x="635" y="1340" width="9" height="9" class="k"/><rect x="546" y="1411" width="9" height="9" class="k"/><rect x="618" y="1371" width="9" height="9" class="k"/><rect x="594" y="1325" width="9" height="9" class="k"/><rect x="574" y="1344" width="9" height="9" class="k"/><rect x="587" y="1422" width="9" height="9" class="k"/><rect x="597" y="1402" width="9" height="9" class="k"/><rect x="570" y="1366" width="9" height="9" class="k"/><rect x="599" y="1372" width="9" height="9" class="k"/><rect x="633" y="1354" width="9" height="9" class="k"/><rect x="641" y="1356" width="9" height="9" class="k"/><rect x="629" y="1355" width="9" height="9" class="k"/><rect x="642" y="1390" width="9" height="9" class="k"/><rect x="609" y="1417" width="9" height="9" class="k"/><rect x="574" y="1344" width="9" height="9" class="k"/><rect x="549" y="1418" width="9" height="9" class="k"/><rect x="571" y="1360" width="9" height="9" class="k"/><rect x="594" y="1446" width="9" height="9" class="k"/><rect x="547" y="1393" width="9" height="9" class="k"/><rect x="580" y="1409" width="9" height="9" class="k"/><rect x="546" y="1372" width="9" height="9" class="k"/><rect x="618" y="1437" width="9" height="9" class="k"/><rect x="639" y="1357" width="9" height="9" class="k"/><rect x="597" y="1380" width="9" height="9" class="k"/><rect x="560" y="1341" width="9" height="9" class="k"/><rect x="622" y="1396" width="9" height="9" class="k"/><rect x="590" y="1433" width="9" height="9" class="k"/><rect x="562" y="1406" width="9" height="9" class="k"/><rect x="595" y="1382" width="9" height="9" class="k"/><rect x="613" y="1393" width="9" height="9" class="k"/><rect x="605" y="1397" width="9" height="9" class="k"/><rect x="645" y="1375" width="9" height="9" class="k"/><rect x="628" y="1409" width="9" height="9" class="k"/><rect x="583" y="1419" width="9" height="9" class="k"/><rect x="569" y="1428" width="9" height="9" class="k"/><rect x="567" y="1364" width="9" height="9" class="k"/><rect x="606" y="1420" width="9" height="9" class="k"/><rect x="624" y="1420" width="9" height="9" class="k"/><rect x="588" y="1345" width="9" height="9" class="k"/><rect x="615" y="1398" width="9" height="9" class="k"/><rect x="565" y="1422" width="9" height="9" class="k"/><rect x="602" y="1345" width="9" height="9" class="k"/><rect x="609" y="1336" width="9" height="9" class="k"/><rect x="564" y="1402" width="9" height="9" class="k"/><rect x="549" y="1386" width="9" height="9" class="k"/><rect x="555" y="1411" width="9" height="9" class="k"/><rect x="569" y="1393" width="9" height="9" class="k"/><rect x="550" y="1373" width="9" height="9" class="k"/><rect x="627" y="1404" width="9" height="9" class="k"/><rect x="549" y="1413" width="9" height="9" class="k"/><rect x="626" y="1369" width="9" height="9" class="k"/><rect x="634" y="1350" width="9" height="9" class="k"/><rect x="592" y="1430" width="9" height="9" class="k"/><rect x="630" y="1427" width="9" height="9" class="k"/><rect x="568" y="1332" width="9" height="9" class="k"/><rect x="607" y="1333" width="9" height="9" class="k"/><rect x="591" y="1336" width="9" height="9" class="k"/><rect x="629" y="1416" width="9" height="9" class="k"/><rect x="616" y="1386" width="9" height="9" class="k"/><rect x="597" y="1371" width="9" height="9" class="k"/><rect x="610" y="1396" width="9" height="9" class="k"/><rect x="612" y="1366" width="9" height="9" class="k"/><rect x="645" y="1394" width="9" height="9" class="k"/><rect x="632" y="1427" width="9" height="9" class="k"/><rect x="572" y="1331" width="9" height="9" class="k"/><rect x="635" y="1370" width="9" height="9" class="k"/><rect x="598" y="1373" width="9" height="9" class="k"/><rect x="599" y="1338" width="9" height="9" class="k"/><rect x="591" y="1364" width="9" height="9" class="k"/><rect x="595" y="1321" width="9" height="9" class="k"/><rect x="624" y="1399" width="9" height="9" class="k"/><rect x="549" y="1362" width="9" height="9" class="k"/><rect x="596" y="1413" width="9" height="9" class="k"/><rect x="595" y="1437" width="9" height="9" class="k"/><rect x="596" y="1344" width="9" height="9" class="k"/><rect x="572" y="1416" width="9" height="9" class="k"/><rect x="574" y="1419" width="9" height="9" class="k"/><rect x="629" y="1408" width="9" height="9" class="k"/><rect x="630" y="1378" width="9" height="9" class="k"/><rect x="595" y="1359" width="9" height="9" class="k"/><rect x="578" y="1332" width="9" height="9" class="k"/><rect x="577" y="1343" width="9" height="9" class="k"/><rect x="551" y="1390" width="9" height="9" class="k"/><rect x="612" y="1370" width="9" height="9" class="k"/><rect x="634" y="1417" width="9" height="9" class="k"/><rect x="629" y="1361" width="9" height="9" class="k"/><rect x="551" y="1405" width="9" height="9" class="k"/><rect x="606" y="1416" width="9" height="9" class="k"/><rect x="608" y="1433" width="9" height="9" class="k"/><rect x="584" y="1414" width="9" height="9" class="k"/><rect x="576" y="1325" width="9" height="9" class="k"/><rect x="582" y="1438" width="9" height="9" class="k"/><rect x="552" y="1417" width="9" height="9" class="k"/><rect x="570" y="1368" width="9" height="9" class="k"/><rect x="597" y="1395" width="9" height="9" class="k"/><rect x="561" y="1390" width="9" height="9" class="k"/><rect x="610" y="1420" width="9" height="9" class="k"/><rect x="574" y="1437" width="9" height="9" class="k"/><rect x="629" y="1437" width="9" height="9" class="k"/><rect x="553" y="1392" width="9" height="9" class="k"/><rect x="546" y="1397" width="9" height="9" class="k"/><rect x="613" y="1341" width="9" height="9" class="k"/><rect x="549" y="1392" width="9" height="9" class="k"/><rect x="617" y="1352" width="9" height="9" class="k"/><rect x="589" y="1321" width="9" height="9" class="k"/><rect x="569" y="1391" width="9" height="9" class="k"/><rect x="599" y="1441" width="9" height="9" class="k"/><circle cx="610" cy="1374" r="5"/><circle cx="620" cy="1396" r="5"/><circle cx="610" cy="1418" r="5"/><circle cx="620" cy="1440" r="5"/><circle cx="642" cy="1352" r="5"/><circle cx="632" cy="1374" r="5"/><circle cx="642" cy="1396" r="5"/><circle cx="632" cy="1418" r="5"/><circle cx="642" cy="1440" r="5"/><circle cx="632" cy="1462" r="5"/><circle cx="664" cy="1352" r="5"/><circle cx="654" cy="1374" r="5"/><circle cx="664" cy="1396" r="5"/><circle cx="654" cy="1418" r="5"/><circle cx="664" cy="1440" r="5"/><circle cx="654" cy="1462" r="5"/><circle cx="664" cy="1484" r="5"/><circle cx="676" cy="1330" r="5"/><circle cx="686" cy="1352" r="5"/><circle cx="676" cy="1374" r="5"/><circle cx="686" cy="1396" r="5"/><circle cx="676" cy="1418" r="5"/><circle cx="686" cy="1440" r="5"/><circle cx="676" cy="1462" r="5"/><circle cx="686" cy="1484" r="5"/><circle cx="698" cy="1330" r="5"/><circle cx="708" cy="1352" r="5"/><circle cx="698" cy="1374" r="5"/><circle cx="708" cy="1396" r="5"/><circle cx="698" cy="1418" r="5"/><circle cx="708" cy="1440" r="5"/><circle cx="698" cy="1462" r="5"/><circle cx="708" cy="1484" r="5"/><circle cx="720" cy="1330" r="5"/><circle cx="730" cy="1352" r="5"/><circle cx="720" cy="1374" r="5"/><circle cx="730" cy="1396" r="5"/><circle cx="720" cy="1418" r="5"/><circle cx="730" cy="1440" r="5"/><circle cx="720" cy="1462" r="5"/><circle cx="730" cy="1484" r="5"/><circle cx="752" cy="1352" r="5"/><circle cx="742" cy="1374" r="5"/><circle cx="752" cy="1396" r="5"/><circle cx="742" cy="1418" r="5"/><circle cx="752" cy="1440" r="5"/><circle cx="742" cy="1462" r="5"/><circle cx="764" cy="1374" r="5"/><circle cx="774" cy="1396" r="5"/><circle cx="764" cy="1418" r="5"/><circle cx="774" cy="1440" r="5"/><circle cx="764" cy="1462" r="5"/>
</g>
<path d="M2032.6,2412.6 L2034.6,2415.5 L2045.7,2423.1 M2036.8,2406.4 L2040.3,2407.3 L2051.3,2414.9 M2032.6,2412.6 L2033.4,2412.8 L2034.4,2412.5 L2035.5,2411.8 L2036.4,2410.7 L2037.1,2409.4 L2037.4,2408.1 L2037.3,2407.1 L2036.8,2406.4 L2036.0,2406.2 L2035.0,2406.5 L2033.9,2407.2 L2033.0,2408.3 L2032.3,2409.6 L2032.0,2410.9 L2032.1,2411.9 L2032.6,2412.6 Z M2036.0,2416.1 L2034.7,2416.0 L2033.8,2415.1 L2033.6,2413.6 L2034.0,2411.7 L2035.1,2409.7 L2036.5,2408.1 L2038.1,2407.0 L2039.6,2406.7 L2040.8,2407.1 L2041.4,2408.3 M2038.3,2417.8 L2037.0,2417.6 L2036.2,2416.7 L2035.9,2415.2 L2036.4,2413.3 L2037.4,2411.4 L2038.8,2409.7 L2040.4,2408.6 L2042.0,2408.3 L2043.1,2408.8 L2043.7,2409.9 M2040.7,2419.4 L2039.3,2419.2 L2038.5,2418.3 L2038.3,2416.8 L2038.7,2414.9 L2039.7,2413.0 L2041.2,2411.3 L2042.8,2410.2 L2044.3,2409.9 L2045.4,2410.4 L2046.0,2411.6 M2043.0,2421.0 L2041.7,2420.8 L2040.8,2419.9 L2040.6,2418.4 L2041.1,2416.5 L2042.1,2414.6 L2043.5,2412.9 L2045.1,2411.8 L2046.6,2411.5 L2047.8,2412.0 L2048.4,2413.2 M2045.3,2422.6 L2044.0,2422.4 L2043.2,2421.5 L2043.0,2420.0 L2043.4,2418.1 L2044.4,2416.2 L2045.9,2414.5 L2047.5,2413.5 L2049.0,2413.1 L2050.1,2413.6 L2050.7,2414.8 M2044.5,2424.8 L2045.7,2425.2 L2047.2,2424.9 L2048.7,2424.2 L2050.3,2422.9 L2051.7,2421.2 L2052.7,2419.3 L2053.4,2417.4 L2053.6,2415.6 L2053.3,2414.2 L2052.5,2413.2 L2051.3,2412.8 L2049.8,2413.1 L2048.3,2413.8 L2046.7,2415.1 L2045.3,2416.8 L2044.3,2418.7 L2043.6,2420.6 L2043.4,2422.4 L2043.7,2423.8 L2044.5,2424.8 Z M2046.6,2426.0 L2045.6,2425.4 L2044.9,2424.4 L2044.7,2423.0 L2045.0,2421.3 L2045.6,2419.5 L2046.6,2417.7 L2047.9,2416.1 L2049.4,2414.9 L2050.9,2414.1 L2052.3,2413.7 L2053.5,2414.0 L2054.3,2414.7 M2050.7,2428.9 L2056.8,2427.6 L2061.9,2420.2 L2060.9,2414.1 L2054.8,2415.4 L2049.7,2422.8 Z M2050.7,2428.9 L2045.2,2427.0 M2060.9,2414.1 L2055.4,2412.2 M2054.8,2415.4 L2049.3,2413.5 M2049.7,2422.8 L2044.2,2420.9 M2055.4,2412.2 L2049.3,2413.5 L2044.2,2420.9 L2045.2,2427.0" style="stroke-width:1.15"/>

</g>
<g class="bx">
<rect x="711.3" y="845.3" width="505" height="280"/><rect x="711.3" y="845.3" width="82" height="46.7"/>
<rect x="858.2" y="1476" width="478.4" height="357.6"/><rect x="858.2" y="1476" width="82.2" height="47"/>
<rect x="1376" y="1608.5" width="201.1" height="216.9"/><rect x="1376" y="1608.5" width="82.3" height="46.8"/>
<rect x="1599.1" y="1608.5" width="182.1" height="216.9"/><rect x="1599.1" y="1608.5" width="98.7" height="46.8"/>
<rect x="1806.8" y="1608.5" width="185.4" height="204.1"/><rect x="1806.8" y="1608.5" width="99.5" height="46.8"/>
<rect x="1371.9" y="2049" width="492.4" height="399.6"/><rect x="1371.9" y="2049" width="82.6" height="46.9"/>
<rect x="1884.8" y="2286" width="192" height="187.3"/><rect x="1884.8" y="2286" width="82.3" height="46.6"/>

</g>
<g class="t" style="opacity:.999">
<text transform="translate(861.48,71.60) scale(1.0452,1.0)" font-size="31">467</text>
<text transform="translate(716.26,250.80) scale(1.0680,1.0)" font-size="31">968</text>
<text transform="translate(876.02,377.50) scale(1.0146,1.0)" font-size="31">167</text>
<text transform="translate(773.68,515.40) scale(1.0420,1.0)" font-size="31">445</text>
<text transform="translate(776.96,702.40) scale(1.0735,1.0)" font-size="31">967</text>
<text transform="translate(797.16,809.10) scale(0.9898,1.0)" font-size="31">971</text>
<text transform="translate(722.06,879.80) scale(1.0680,1.0)" font-size="31">875</text>
<text transform="translate(1103.96,1025.10) scale(1.0380,1.0)" font-size="31">344</text>
<text transform="translate(717.27,1088.40) scale(1.0363,1.0)" font-size="31">176</text>
<text transform="translate(958.94,1107.90) scale(0.8702,1.0)" font-size="31">11</text>
<text transform="translate(155.28,944.90) scale(1.0574,1.0)" font-size="31">51A</text>
<text transform="translate(287.78,1113.20) scale(1.0574,1.0)" font-size="31">50</text>
<text transform="translate(217.89,1169.00) scale(1.0500,1.0)" font-size="31">53</text>
<text transform="translate(386.58,1236.30) scale(1.0554,1.0)" font-size="31">54</text>
<text transform="translate(71.43,1250.70) scale(1.0444,1.0)" font-size="31">654</text>
<text transform="translate(1654.30,1134.50) scale(1.0687,1.0)" font-size="31">607</text>
<text transform="translate(1608.01,1221.60) scale(1.0620,1.0)" font-size="31">607A</text>
<text transform="translate(1196.96,1303.65) scale(1.0706,1.06)" font-size="31" font-weight="bold">NO LONGER AVAILABLE</text>
<text transform="translate(568.52,1598.30) scale(1.0521,1.0)" font-size="31">613A</text>
<text transform="translate(276.75,1991.50) scale(1.0517,1.0)" font-size="31">300A</text>
<text transform="translate(869.74,1511.60) scale(1.0553,1.0)" font-size="31">300</text>
<text transform="translate(971.80,1525.50) scale(1.0691,1.0)" font-size="31">613B</text>
<text transform="translate(869.68,1633.40) scale(1.0579,1.0)" font-size="31">883</text>
<text transform="translate(1261.09,1633.40) scale(1.0735,1.0)" font-size="31">613</text>
<text transform="translate(1245.10,1807.60) scale(1.0653,1.0)" font-size="31">725</text>
<text transform="translate(1387.29,1643.30) scale(1.0714,1.0)" font-size="31">676</text>
<text transform="translate(1607.74,1643.30) scale(1.0408,1.0)" font-size="31">676A</text>
<text transform="translate(1815.08,1643.30) scale(1.0777,1.0)" font-size="31">676B</text>
<text transform="translate(1476.41,1810.90) scale(1.0626,1.0)" font-size="31">677</text>
<text transform="translate(1710.58,1793.90) scale(1.0831,1.0)" font-size="31">677</text>
<text transform="translate(1911.19,1793.90) scale(1.0708,1.0)" font-size="31">677</text>
<text transform="translate(335.95,2314.80) scale(1.0525,1.0)" font-size="31">303</text>
<text transform="translate(424.27,2335.30) scale(1.0878,1.0)" font-size="31">298</text>
<text transform="translate(205.84,2544.30) scale(0.9624,1.0)" font-size="31">301</text>
<text transform="translate(632.25,2510.30) scale(1.0514,1.0)" font-size="31">300B</text>
<text transform="translate(1383.99,2084.60) scale(1.0490,1.0)" font-size="31">832</text>
<text transform="translate(1467.37,2300.40) scale(1.0872,1.0)" font-size="31">237</text>
<text transform="translate(1420.27,2350.40) scale(1.0837,1.0)" font-size="31">263</text>
<text transform="translate(1770.68,2406.40) scale(1.0579,1.0)" font-size="31">836</text>
<text transform="translate(1896.39,2320.00) scale(1.0472,1.0)" font-size="31">994</text>
<text transform="translate(1987.75,2465.00) scale(1.0545,1.0)" font-size="31">346</text>

</g>
</svg>
</body></html>
